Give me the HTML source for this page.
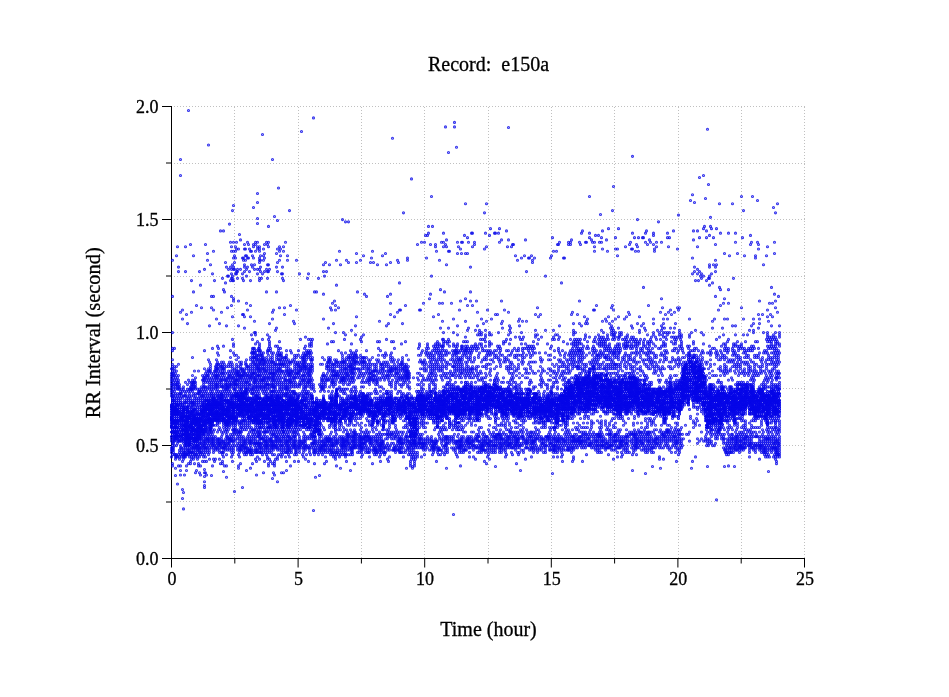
<!DOCTYPE html>
<html><head><meta charset="utf-8"><title>Record: e150a</title>
<style>
html,body{margin:0;padding:0;background:#fff;width:949px;height:697px;overflow:hidden}
svg{display:block}
.tl{font-family:"Liberation Serif",serif;font-size:18px;fill:#000;stroke:#000;stroke-width:.3px}
.lb{font-family:"Liberation Serif",serif;font-size:20px;fill:#000;stroke:#000;stroke-width:.3px}
</style></head><body>
<svg width="949" height="697" viewBox="0 0 949 697">
<rect width="949" height="697" fill="#fff"/>
<path d="M234.5 107V558M298.5 107V558M361.5 107V558M424.5 107V558M488.5 107V558M551.5 107V558M614.5 107V558M678.5 107V558M741.5 107V558M804.5 107V558M171 501.5H805M171 445.5H805M171 388.5H805M171 332.5H805M171 276.5H805M171 219.5H805M171 163.5H805M171 106.5H805" stroke="#c0c0c0" stroke-width="1" stroke-dasharray="1 2" fill="none"/>
<path d="M171.5 106V559M171 558.5H805" stroke="#000" stroke-width="1" fill="none"/>
<path d="M171.50 558V567.5M234.80 558V563.5M298.10 558V567.5M361.40 558V563.5M424.70 558V567.5M488.00 558V563.5M551.30 558V567.5M614.60 558V563.5M677.90 558V567.5M741.20 558V563.5M804.50 558V567.5M171 558.50H162M171 502.00H166M171 445.50H162M171 389.00H166M171 332.50H162M171 276.00H166M171 219.50H162M171 163.00H166M171 106.50H162" stroke="#000" stroke-width="1" fill="none"/>
<text x="171.9" y="585" text-anchor="middle" class="tl">0</text>
<text x="298.5" y="585" text-anchor="middle" class="tl">5</text>
<text x="425.1" y="585" text-anchor="middle" class="tl">10</text>
<text x="551.7" y="585" text-anchor="middle" class="tl">15</text>
<text x="678.3" y="585" text-anchor="middle" class="tl">20</text>
<text x="804.9" y="585" text-anchor="middle" class="tl">25</text>
<text x="158.6" y="564.8" text-anchor="end" class="tl">0.0</text>
<text x="158.6" y="451.8" text-anchor="end" class="tl">0.5</text>
<text x="158.6" y="338.8" text-anchor="end" class="tl">1.0</text>
<text x="158.6" y="225.8" text-anchor="end" class="tl">1.5</text>
<text x="158.6" y="112.8" text-anchor="end" class="tl">2.0</text>
<text x="488.5" y="70.5" text-anchor="middle" class="lb" xml:space="preserve">Record:  e150a</text>
<text x="488.5" y="635.8" text-anchor="middle" class="lb">Time (hour)</text>
<text transform="translate(99.9 332.8) rotate(-90)" text-anchor="middle" class="lb" style="font-size:20.4px">RR Interval (second)</text>
<defs><marker id="c" markerUnits="userSpaceOnUse" markerWidth="4" markerHeight="4" refX="2" refY="2" overflow="visible"><circle cx="2" cy="2" r="1" fill="none" stroke="#0606e8" stroke-opacity="0.8" stroke-width="1.15"/></marker><marker id="k" markerUnits="userSpaceOnUse" markerWidth="4" markerHeight="4" refX="2" refY="2" overflow="visible"><circle cx="2" cy="2" r="1" fill="none" stroke="#0606e8" stroke-opacity="1.0" stroke-width="1.15"/></marker></defs>
<path d="M171.5 368.76v4.52 2.26 2.26 2.26 2.26 2.26 2.26 2.26 2.26 2.26 2.26 42.94 2.26 6.78 2.26 2.26 4.52M172.5 260.28v36.16 36.16 15.82 2.26 9.04 4.52 2.26 2.26 2.26 2.26 2.26 4.52 4.52 6.78 4.52 36.16 2.26 9.04 2.26 2.26 2.26 4.52 9.04 2.26M173.5 373.28v2.26 2.26 4.52 2.26 2.26 2.26 4.52 2.26 4.52 36.16 2.26 2.26 2.26 4.52 2.26 2.26M174.5 348.42v18.08 2.26 2.26 4.52 4.52 11.3 6.78 2.26 45.2 9.04M175.5 373.28v4.52 4.52 2.26 2.26 2.26 4.52 2.26 42.94 15.82 2.26 2.26 9.04 7.3M176.5 255.76v110.74 4.52 4.52 4.52 4.52 13.56 2.26 45.2 9.04 2.26M177.5 246.72v131.08 4.52 2.26 2.26 2.26 4.52 2.26 42.94 2.26 2.26 13.56 27.12M178.5 267.06v4.52 92.66 11.3 4.52 2.26 4.52 2.26 9.04 2.26 2.26 2.26 36.16 13.56 11.3M179.5 384.58v2.26 2.26 4.52 2.26 11.3 33.9 9.04 2.26 4.52 2.26M180.5 159.5v16 136.76 79.1 2.26 4.52 2.26 40.68 4.52 2.26 6.78 11.3 4.52 4.52M181.5 389.1v4.52 2.26 42.94 2.26 6.78 2.26 2.26 4.52M182.5 310v9.04 72.32 6.78 4.52 36.16 15.82 6.78 28.08 9M183.5 386.84v2.26 6.78 47.46 4.52 2.26 2.26 2.26 2.26 2.26 33.34 16.38M184.5 391.36v4.52 4.52 2.26 2.26 2.26 2.26 36.16 6.78 2.26 2.26 18.08M185.5 246.72v24.86 110.74 11.3 2.26 6.78 4.52 38.42 2.26 2.26 2.26 2.26 2.26M186.5 314.52v76.84 6.78 2.26 2.26 51.98 11.3 4.52M187.5 323.56v61.02 4.52 6.78 45.2 2.26 4.52 2.26 2.26 2.26M188.5 110.5v269.56 11.3 6.78 2.26 2.26 2.26 40.68 4.52 2.26 2.26 9.04M189.5 382.32v6.78 4.52 2.26 11.3 2.26 2.26 2.26 33.9 2.26 2.26 4.52M190.5 244.46v142.38 2.26 2.26 6.78 2.26 2.26 2.26 47.46 2.26 6.78 2.26M191.5 280.62v31.64 70.06 2.26 2.26 2.26 6.78 6.78 4.52 2.26 2.26 36.16 2.26 2.26 4.52 2.26M192.5 357.46v18.08 4.52 2.26 2.26 4.52 2.26 9.04 2.26 2.26 2.26 40.68 4.52 2.26M193.5 255.76v36.16 90.4 2.26 2.26 2.26 4.52 2.26 6.78 2.26 4.52 38.42 2.26 2.26 4.52 2.26M194.5 371.02v9.04 2.26 4.52 11.3 2.26 2.26 2.26 40.68 2.26 6.78 9.04M195.5 377.8v4.52 2.26 2.26 2.26 4.52 2.26 11.3 2.26 2.26 2.26 29.38 2.26 2.26 2.26 2.26 2.26 2.26 15.82M196.5 305.48v92.66 2.26 2.26 2.26 6.78 29.38 4.52 2.26 6.78 15.82M197.5 389.1v4.52 13.56 2.26 2.26 2.26 33.9 2.26 2.26 4.52 2.26M198.5 371.02v20.34 2.26 4.52 2.26 2.26 2.26 40.68 2.26 2.26 4.52 9.04 2.26M199.5 271.58v117.52 2.26 2.26 2.26 11.3 2.26 2.26 29.38 2.26 4.52 2.26 2.26 4.52 15.82M200.5 285.14v106.22 6.78 2.26 2.26 33.9 2.26 4.52 2.26 2.26 4.52 2.26 11.3 9.04M201.5 307.74v79.1 2.26 4.52 2.26 40.68 2.26 2.26 2.26 4.52 2.26 2.26M202.5 375.54v4.52 11.3 4.52 2.26 2.26 2.26 2.26 29.38 11.3 9.04 6.78M203.5 377.8v2.26 2.26 2.26 2.26 2.26 4.52 2.26 6.78 2.26 31.64 2.26 2.26 2.26 2.26 2.26 2.26 2.26 4.52M204.5 269.32v81.36 18.08 6.78 2.26 2.26 6.78 4.52 6.78 2.26 2.26 27.12 2.26 2.26 6.78 2.26 2.26 2.26 6.78 6.78 8.08 3.22 3.78 5.26 3.74 2M205.5 244.46v128.82 4.52 4.52 4.52 2.26 4.52 2.26 4.52 31.64 4.52 2.26 2.26 2.26 4.52 2.26 2.26 4.52 15.82M206.5 371.02v4.52 4.52 11.3 6.78 29.38 2.26 2.26 6.78 6.78 2.26 13.56 13.56M207.5 253.5v6.78 113 2.26 2.26 4.52 4.52 2.26 4.52 2.26 4.52 22.6 2.26 2.26 4.52 2.26 2.26 2.26 2.26 2.26 4.52 2.26 2.26M208.5 145.02v214.7 9.04 2.26 4.52 4.52 18.08 2.26 29.38 4.52 4.52 2.26 4.52 9.04M209.5 325.82v36.16 9.04 2.26 4.52 4.52 2.26 2.26 2.26 4.52 2.26 4.52 2.26 22.6 2.26 2.26 2.26 4.52 2.26 2.26 2.26 4.52 2.26 2.26 6.78M210.5 264.8v99.44 2.26 2.26 2.26 9.04 11.3 6.78 33.9 2.26 11.3M211.5 296.44v11.3 65.54 4.52 4.52 2.26 2.26 2.26 33.9 2.26 2.26 4.52 4.52 2.26 2.26 2.26 4.52 27.64M212.5 273.84v74.58 27.12 4.52 11.3 6.78 31.64 4.52 4.52 2.26 2.26 2.26 20.34M213.5 251.24v45.2 13.56 63.28 4.52 4.52 2.26 2.26 2.26 4.52 24.86 2.26 4.52 6.78 4.52 2.26 2.26 2.26 2.26 2.26 2.26 2.26 6.78M214.5 280.62v90.4 4.52 4.52 18.08 2.26 29.38 15.82 15.82M215.5 366.5v2.26 2.26 2.26 2.26 2.26 4.52 2.26 2.26 2.26 4.52 2.26 4.52 20.34 4.52 11.3 2.26 2.26 2.26 4.52 2.26 9.04M216.5 319.04v40.68 4.52 2.26 2.26 2.26 4.52 2.26 2.26 4.52 2.26 4.52 6.78 2.26 2.26 42.94 2.26M217.5 346.16v6.78 9.04 2.26 4.52 4.52 2.26 2.26 4.52 2.26 2.26 2.26 4.52 2.26 4.52 24.86 6.78 6.78 2.26 2.26 4.52 2.26M218.5 348.42v6.78 9.04 2.26 2.26 2.26 4.52 4.52 11.3 4.52 2.26 2.26 29.38 9.04 2.26 2.26 2.26M219.5 323.56v49.72 4.52 4.52 2.26 2.26 6.78 2.26 2.26 4.52 20.34 4.52 11.3 2.26 2.26 2.26 2.26 2.26 2.26 6.78M220.5 230.9v133.34 2.26 4.52 4.52 4.52 11.3 6.78 2.26 2.26 27.12 13.56 2.26 18.08M221.5 312.26v49.72 4.52 2.26 4.52 4.52 2.26 2.26 2.26 2.26 6.78 27.12 11.3 4.52 2.26 2.26 2.26 4.52 4.52M222.5 278.36v85.88 2.26 2.26 2.26 2.26 2.26 4.52 6.78 4.52 4.52 2.26 2.26 2.26 31.64 6.78 4.52 2.26 4.52 2.26 6.78 2.26M223.5 230.9v58.76 56.5 15.82 6.78 4.52 4.52 6.78 2.26 2.26 4.52 2.26 29.38 2.26 4.52 9.04 2.26 4.52 2.26 2.26 4.52 14.6M224.5 291.92v72.32 2.26 2.26 2.26 4.52 4.52 11.3 6.78 31.64 13.56 2.26 2.26 18.08M225.5 262.54v20.34 90.4 4.52 2.26 2.26 2.26 2.26 2.26 4.52 2.26 29.38 6.78 6.78 2.26 2.26 2.26 2.26 2.26M226.5 267.06v58.76 40.68 13.56 4.52 2.26 2.26 2.26 6.78 4.52 2.26 29.38 2.26 9.04 9.04 11.3 11.3M227.5 276.1v31.64 65.54 4.52 4.52 2.26 2.26 2.26 4.52 2.26 24.86 2.26 2.26 6.78 4.52 2.26 2.26 2.26 4.52 2.26M228.5 269.32v6.78 88.14 2.26 4.52 4.52 2.26 2.26 6.78 4.52 31.64 2.26 4.52 9.04 4.52 2.26M229.5 224.12v137.86 11.3 2.26 2.26 4.52 2.26 2.26 2.26 4.52 2.26 27.12 2.26 2.26 9.04 2.26 2.26 2.26 4.52 2.26M230.5 242.2v24.86 13.56 70.06 6.78 6.78 2.26 4.52 4.52 4.52 4.52 6.78 6.78 2.26 2.26 2.26 29.38 4.52 2.26 4.52M231.5 246.72v4.52 18.08 4.52 4.52 18.08 9.04 56.5 11.3 4.52 4.52 2.26 2.26 6.78 2.26 2.26 2.26 2.26 20.34 2.26 11.3 2.26 2.26 6.78 2.26 2.26 4.52M232.5 210.56v54.24 11.3 2.26 2.26 36.16 22.6 24.86 2.26 2.26 2.26 4.52 2.26 2.26 15.82 2.26 2.26 22.6 6.78 4.52 6.78 4.52 9.04 6.78M233.5 205.5v36.7 9.04 6.78 9.04 2.26 11.3 18.08 2.26 42.94 2.26 6.78 20.34 4.52 4.52 2.26 2.26 2.26 4.52 2.26 6.78 20.34 2.26 2.26 2.26 2.26 4.52 2.26 2.26 2.26 4.52 2.26 2.26M234.5 255.76v6.78 6.78 85.88 13.56 2.26 4.52 4.52 2.26 2.26 4.52 2.26 4.52 2.26 2.26 2.26 27.12 2.26 2.26 11.3 45.9M235.5 246.72v4.52 6.78 15.82 99.44 4.52 2.26 2.26 2.26 2.26 2.26 38.42 2.26 2.26 6.78 2.26M236.5 242.2v6.78 22.6 2.26 81.36 4.52 4.52 2.26 2.26 2.26 2.26 2.26 4.52 4.52 6.78 2.26 2.26 24.86 9.04 4.52 11.3M237.5 269.32v2.26 6.78 92.66 2.26 2.26 2.26 2.26 2.26 2.26 2.26 6.78 2.26 24.86 2.26 9.04 4.52 2.26 4.52 4.52 2.26M238.5 248.98v51.98 24.86 31.64 9.04 4.52 2.26 2.26 4.52 11.3 2.26 22.6 13.56 2.26 2.26 11.3 9.04 11.3 2.26M239.5 234.5v127.48 11.3 2.26 2.26 4.52 2.26 2.26 2.26 4.52 2.26 24.86 2.26 2.26 6.78 4.52 2.26 2.26 2.26 4.52 2.26 2.26 4.52M240.5 239.94v29.38 94.92 2.26 2.26 2.26 4.52 2.26 2.26 11.3 31.64 4.52 2.26 2.26 2.26 11.3 2.26 2.26 13.56M241.5 361.98v2.26 4.52 4.52 2.26 2.26 4.52 2.26 2.26 24.86 2.26 6.78 2.26 2.26 2.26 4.52 4.52 2.26 2.26 2.26 2.26 2.26 2.26M242.5 258.02v15.82 4.52 36.16 54.24 2.26 4.52 4.52 11.3 27.12 2.26 9.04 15.82 41.9M243.5 258.02v2.26 20.34 33.9 56.5 2.26 2.26 2.26 4.52 2.26 2.26 29.38 4.52 2.26 2.26 2.26 9.04 2.26 2.26 2.26 2.26 2.26 2.26 2.26M244.5 244.46v4.52 15.82 2.26 4.52 45.2 11.3 40.68 2.26 2.26 2.26 4.52 11.3 4.52 24.86 9.04 11.3 2.26 2.26 2.26 6.78M245.5 248.98v6.78 4.52 101.7 2.26 9.04 4.52 4.52 2.26 2.26 22.6 2.26 2.26 6.78 2.26 2.26 2.26 11.3 2.26 2.26 4.52 2.26 2.26M246.5 255.76v13.56 6.78 27.12 56.5 4.52 2.26 2.26 6.78 4.52 2.26 6.78 2.26 2.26 22.6 2.26 11.3 15.82 2.26 4.52 2.26 15.82M247.5 242.2v15.82 9.04 42.94 56.5 6.78 2.26 2.26 4.52 2.26 2.26 2.26 4.52 2.26 24.86 2.26 2.26 2.26 9.04 2.26 2.26 2.26 4.52 2.26 2.26M248.5 244.46v13.56 108.48 2.26 2.26 4.52 4.52 11.3 42.94 15.82M249.5 248.98v22.6 101.7 4.52 4.52 2.26 2.26 2.26 9.04 24.86 2.26 2.26 4.52 4.52 2.26 2.26 2.26 4.52 2.26 2.26M250.5 251.24v29.38 24.86 11.3 40.68 2.26 4.52 2.26 2.26 2.26 4.52 2.26 2.26 4.52 6.78 38.42 11.3 2.26 2.26 4.52 2.26 2.26 13.56M251.5 251.24v13.56 70.06 18.08 20.34 2.26 2.26 11.3 4.52 27.12 2.26 4.52 4.52 4.52 2.26 2.26 2.26 4.52 2.26 2.26M252.5 255.76v11.3 72.32 9.04 2.26 2.26 2.26 2.26 2.26 2.26 2.26 2.26 2.26 2.26 2.26 2.26 4.52 6.78 2.26 2.26 2.26 4.52 2.26 29.38 4.52 20.34 9.04M253.5 207.5v36.96 2.26 11.3 90.4 4.52 4.52 4.52 11.3 4.52 4.52 2.26 2.26 2.26 4.52 2.26 2.26 2.26 22.6 6.78 2.26 4.52 2.26 2.26 2.26 6.78 2.26M254.5 264.8v4.52 51.98 11.3 15.82 2.26 2.26 2.26 2.26 2.26 4.52 2.26 2.26 2.26 2.26 2.26 2.26 2.26 2.26 9.04 6.78 2.26 29.38 4.52 9.04 2.26M255.5 242.2v2.26 6.78 81.36 2.26 9.04 9.04 4.52 4.52 2.26 9.04 4.52 2.26 2.26 2.26 2.26 2.26 4.52 2.26 27.12 2.26 2.26 4.52 4.52 2.26 2.26 2.26 4.52 2.26 2.26 6.78M256.5 350.68v4.52 2.26 2.26 4.52 2.26 2.26 2.26 4.52 4.52 6.78 4.52 31.64 6.78 4.52 9.04 2.26 4.52 2.26 9.04 13.56M257.5 193.5v9 16 5 18.7 4.52 2.26 20.34 4.52 67.8 13.56 4.52 2.26 4.52 2.26 4.52 2.26 2.26 4.52 2.26 2.26 2.26 4.52 2.26 2.26 27.12 2.26 4.52 4.52 4.52 2.26 4.52 2.26 2.26 4.52M258.5 348.42v2.26 4.52 2.26 2.26 4.52 2.26 2.26 2.26 4.52 4.52 11.3 29.38 2.26 6.78 2.26 2.26 2.26 6.78 2.26M259.5 246.72v2.26 2.26 6.78 2.26 2.26 6.78 9.04 2.26 63.28 2.26 2.26 2.26 2.26 9.04 2.26 4.52 2.26 2.26 2.26 2.26 4.52 2.26 2.26 2.26 4.52 2.26 36.16 2.26 2.26 2.26 2.26 2.26 2.26 2.26 2.26 2.26 6.78M260.5 255.76v4.52 6.78 4.52 79.1 4.52 2.26 2.26 2.26 2.26 2.26 2.26 2.26 4.52 4.52 6.78 40.68 2.26 4.52 4.52 4.52 2.26 2.26 4.52M261.5 278.36v74.58 2.26 4.52 2.26 11.3 4.52 2.26 2.26 2.26 2.26 2.26 36.16 2.26 4.52 4.52 2.26 4.52 4.52 2.26 2.26M262.5 134.5v139.34 65.54 15.82 2.26 2.26 4.52 2.26 2.26 2.26 4.52 4.52 11.3 9.04 38.42 6.78 9.04M263.5 248.98v6.78 4.52 92.66 4.52 2.26 2.26 2.26 4.52 4.52 4.52 2.26 2.26 2.26 2.26 2.26 4.52 4.52 33.9 4.52 2.26 2.26 2.26 4.52 2.26 2.26 20.34M264.5 244.46v9.04 4.52 13.56 88.14 2.26 2.26 2.26 2.26 2.26 4.52 2.26 2.26 6.78 4.52 6.78 2.26 29.38 2.26 2.26 6.78 4.52 15.82M265.5 361.98v9.04 2.26 4.52 4.52 2.26 2.26 2.26 4.52 2.26 31.64 4.52 4.52 2.26 2.26 2.26 2.26 2.26 2.26 2.26M266.5 242.2v27.12 22.6 65.54 2.26 4.52 2.26 2.26 2.26 4.52 4.52 4.52 6.78 4.52 22.6 11.3 2.26 9.04 2.26 2.26 2.26 6.78M267.5 244.46v20.34 6.78 6.78 56.5 15.82 2.26 9.04 11.3 4.52 4.52 2.26 2.26 2.26 4.52 2.26 24.86 2.26 2.26 2.26 4.52 4.52 2.26 2.26 2.26 2.26 2.26 2.26 2.26 4.52 2.26M268.5 226.38v15.82 4.52 18.08 6.78 67.8 9.04 2.26 4.52 4.52 4.52 2.26 2.26 2.26 4.52 2.26 2.26 4.52 45.2 15.82 18.08 2.26M269.5 269.32v54.24 13.56 4.52 2.26 2.26 15.82 11.3 4.52 6.78 2.26 2.26 4.52 4.52 22.6 4.52 2.26 4.52 6.78 2.26 2.26 4.52 2.26 2.26 6.78M270.5 348.42v2.26 6.78 2.26 4.52 2.26 2.26 2.26 2.26 2.26 4.52 11.3 4.52 24.86 4.52 2.26 2.26 4.52 4.52 2.26 4.52 15.82M271.5 352.94v9.04 11.3 4.52 4.52 2.26 2.26 4.52 2.26 29.38 2.26 2.26 4.52 4.52 2.26 2.26 2.26 2.26 2.26 2.26 2.26M272.5 159.5v152.76 6.78 36.16 2.26 2.26 2.26 2.26 2.26 2.26 2.26 2.26 2.26 2.26 2.26 4.52 2.26 4.52 4.52 2.26 2.26 27.12 2.26 4.52 6.78 2.26 2.26 2.26 6.78 9.04 14.82M273.5 310v42.94 9.04 11.3 2.26 2.26 2.26 2.26 2.26 2.26 2.26 2.26 2.26 2.26 29.38 6.78 2.26 2.26 4.52 2.26 2.26 2.26 2.26 22.6M274.5 216.5v147.74 2.26 2.26 2.26 2.26 2.26 4.52 6.78 4.52 38.42 4.52 11.3 9.04 6.78 2.26 2.26 9.04M275.5 330.34v15.82 15.82 2.26 9.04 4.52 4.52 2.26 2.26 2.26 4.52 2.26 31.64 4.52 4.52 2.26 2.26 2.26 2.26 2.26 11.3M276.5 253.5v13.56 24.86 36.16 27.12 2.26 2.26 4.52 2.26 2.26 2.26 4.52 4.52 11.3 4.52 29.38 2.26 2.26 4.52 2.26 2.26 2.26 4.52 2.26M277.5 220.5v28.48 13.56 9.04 74.58 6.78 18.08 2.26 4.52 4.52 2.26 9.04 38.42 4.52 4.52 2.26 4.52 2.26 6.78 2.26 22.6M278.5 187.96v160.46 2.26 4.52 2.26 2.26 4.52 2.26 2.26 2.26 4.52 4.52 11.3 4.52 33.9 4.52 4.52 6.78 9.04M279.5 246.72v4.52 9.04 47.46 33.9 11.3 2.26 4.52 2.26 2.26 4.52 4.52 4.52 4.52 2.26 2.26 2.26 4.52 2.26 2.26 24.86 2.26 2.26 4.52 4.52 2.26 2.26 2.26 4.52 2.26M280.5 248.98v6.78 92.66 6.78 4.52 4.52 2.26 2.26 2.26 4.52 4.52 11.3 6.78 2.26 29.38 4.52 6.78 4.52 9.04M281.5 273.84v79.1 2.26 2.26 4.52 2.26 6.78 2.26 4.52 4.52 2.26 2.26 2.26 4.52 31.64 2.26 4.52 4.52 2.26 2.26 2.26 2.26 2.26 2.26 2.26 4.52 15.82M282.5 267.06v6.78 4.52 79.1 2.26 4.52 2.26 4.52 20.34 42.94 11.3 9.04M283.5 246.72v4.52 29.38 81.36 2.26 9.04 4.52 4.52 2.26 2.26 2.26 49.72 2.26 2.26 4.52 2.26 2.26 20.34M284.5 307.74v6.78 42.94 2.26 4.52 2.26 4.52 4.52 4.52 49.72 4.52 11.3M285.5 242.2v115.26 4.52 11.3 4.52 2.26 2.26 2.26 2.26 2.26 4.52 2.26 27.12 2.26 2.26 4.52 4.52 2.26 2.26 2.26 4.52 2.26 2.26 4.52M286.5 350.68v4.52 2.26 2.26 4.52 2.26 2.26 2.26 4.52 4.52 6.78 2.26 2.26 2.26 2.26 2.26 27.12 4.52 4.52 6.78 2.26 2.26 6.78 9.04 9.04M287.5 255.76v4.52 101.7 9.04 2.26 9.04 2.26 2.26 2.26 4.52 2.26 36.16 4.52 2.26 2.26 2.26 2.26 2.26 2.26 2.26M288.5 359.72v4.52 2.26 2.26 2.26 2.26 2.26 4.52 11.3 6.78 2.26 2.26 2.26 22.6 2.26 4.52 2.26 4.52 4.52 2.26 2.26 4.52M289.5 210.56v151.42 11.3 2.26 2.26 2.26 2.26 2.26 2.26 2.26 4.52 2.26 2.26 33.9 4.52 2.26 2.26 2.26 4.52 2.26 2.26 4.52M290.5 305.48v45.2 11.3 2.26 4.52 2.26 2.26 2.26 4.52 2.26 9.04 4.52 29.38 4.52 9.04 6.78 20.34M291.5 352.94v9.04 9.04 2.26 4.52 4.52 2.26 2.26 6.78 2.26 2.26 2.26 27.12 4.52 4.52 2.26 2.26 2.26 4.52 2.26 2.26M292.5 359.72v11.3 4.52 4.52 11.3 6.78 2.26 29.38 4.52 11.3M293.5 321.3v40.68 11.3 4.52 4.52 2.26 2.26 4.52 2.26 2.26 2.26 22.6 4.52 2.26 4.52 4.52 2.26 2.26 2.26 2.26 2.26M294.5 323.56v31.64 2.26 2.26 4.52 2.26 2.26 2.26 4.52 2.26 2.26 11.3 2.26 4.52 2.26 20.34 9.04 2.26 2.26 2.26 4.52 2.26 2.26 2.26 6.78 6.78M295.5 361.98v11.3 4.52 4.52 2.26 2.26 6.78 2.26 36.16 4.52 2.26 2.26 2.26 2.26 2.26 2.26 2.26M296.5 260.28v49.72 45.2 2.26 6.78 2.26 2.26 2.26 2.26 2.26 18.08 31.64 4.52 4.52 11.3 4.52 2.26 2.26M297.5 361.98v2.26 9.04 4.52 6.78 2.26 9.04 22.6 2.26 2.26 2.26 2.26 4.52 9.04 6.78M298.5 350.68v4.52 9.04 2.26 2.26 2.26 2.26 2.26 20.34 2.26 31.64 4.52 9.04 2.26 2.26 13.56M299.5 273.84v88.14 4.52 4.52 2.26 4.52 4.52 2.26 2.26 6.78 2.26 29.38 2.26 9.04 2.26 2.26 2.26 2.26 2.26 2.26 2.26M300.5 339.38v18.08 6.78 2.26 2.26 2.26 4.52 4.52 4.52 18.08 27.12 11.3 4.52M301.5 131.46v230.52 6.78 9.04 4.52 11.3 31.64 15.82 2.26 4.52M302.5 355.2v2.26 2.26 4.52 2.26 2.26 2.26 4.52 4.52 11.3 4.52 31.64 15.82 2.26 9.04M303.5 352.94v4.52 2.26 2.26 2.26 2.26 6.78 2.26 2.26 2.26 2.26 2.26 2.26 2.26 4.52 2.26 4.52 4.52 2.26 18.08 2.26 4.52 4.52 2.26 2.26 2.26 4.52 2.26 2.26 4.52M304.5 348.42v6.78 2.26 2.26 2.26 2.26 2.26 2.26 2.26 4.52 4.52 11.3 6.78 2.26 2.26 2.26 20.34 9.04 6.78 4.52 2.26M305.5 337.12v9.04 6.78 2.26 6.78 4.52 2.26 4.52 4.52 4.52 2.26 2.26 2.26 4.52 2.26 2.26 2.26 36.16 2.26 2.26 2.26 2.26 2.26 2.26 9.04M306.5 350.68v4.52 2.26 2.26 4.52 2.26 2.26 2.26 4.52 4.52 6.78 4.52 2.26 4.52 2.26 2.26 2.26 2.26 22.6 15.82 9.04M307.5 278.36v74.58 20.34 4.52 4.52 2.26 9.04 2.26 11.3 20.34 9.04 2.26 9.04M308.5 273.84v65.54 11.3 2.26 2.26 2.26 6.78 2.26 2.26 2.26 2.26 2.26 4.52 2.26 9.04 6.78 2.26 2.26 2.26 24.86 15.82 2.26 13.56M309.5 343.9v2.26 6.78 15.82 2.26 2.26 2.26 2.26 2.26 2.26 2.26 2.26 6.78 2.26 6.78 4.52 29.38 2.26 9.04 2.26 2.26M310.5 339.38v11.3 4.52 2.26 2.26 4.52 2.26 2.26 2.26 4.52 4.52 20.34 4.52 4.52 2.26 18.08 4.52 11.3 9.04M311.5 341.64v2.26 2.26 6.78 6.78 2.26 4.52 6.78 4.52 4.52 2.26 2.26 2.26 4.52 29.38 2.26 6.78 2.26 2.26 2.26 4.52 4.52M312.5 339.38v18.08 2.26 4.52 2.26 2.26 2.26 9.04 15.82 20.34 2.26 2.26 9.04 4.52 2.26 6.78 2.26M313.5 117.9v266.68 2.26 2.26 42.94 4.52 2.26 2.26 2.26 4.52 2.26 2.26 58.12M314.5 291.92v99.44 11.3 2.26 36.16 2.26 2.26 4.52 2.26 2.26 9.04M315.5 402.66v33.9 2.26 2.26 2.26 4.52 2.26 2.26 24.86M316.5 291.92v106.22 47.46M317.5 402.66v38.42 2.26 4.52 2.26 2.26M318.5 278.36v122.04 4.52 40.68 9.04M319.5 384.58v18.08 33.9 2.26 2.26 2.26 4.52 2.26 2.26 23.12M320.5 364.24v22.6 4.52 9.04 2.26 20.34 6.78 4.52 11.3 2.26 2.26M321.5 377.8v2.26 2.26 2.26 2.26 2.26 13.56 22.6 6.78 4.52 4.52 2.26 2.26 2.26 2.26 2.26M322.5 357.46v6.78 11.3 4.52 6.78 2.26 13.56 15.82 15.82 6.78 4.52 2.26 6.78M323.5 264.8v6.78 22.6 24.86 54.24 2.26 2.26 4.52 2.26 2.26 2.26 6.78 22.6 2.26 6.78 11.3 2.26 2.26 2.26 2.26 2.26 2.26M324.5 276.1v83.62 15.82 4.52 11.3 9.04 2.26 13.56 2.26 11.3 13.56 2.26 4.52 13.56M325.5 262.54v115.26 4.52 2.26 2.26 31.64 18.08 2.26 2.26 2.26 2.26 2.26 2.26 2.26 4.52M326.5 271.58v92.66 2.26 2.26 6.78 4.52 22.6 2.26 11.3 2.26 20.34 2.26 4.52 15.82M327.5 343.9v18.08 4.52 6.78 4.52 2.26 38.42 2.26 15.82 2.26 2.26 2.26 4.52 2.26 2.26M328.5 328.08v29.38 2.26 2.26 2.26 2.26 2.26 2.26 9.04 11.3 11.3 2.26 15.82 18.08 2.26 4.52M329.5 264.8v94.92 2.26 15.82 9.04 9.04 2.26 22.6 4.52 2.26 9.04 2.26 2.26 2.26 4.52 2.26 2.26M330.5 307.74v49.72 2.26 4.52 2.26 2.26 2.26 4.52 4.52 18.08 4.52 2.26 29.38 4.52 2.26 4.52 4.52 4.52M331.5 310v31.64 20.34 11.3 4.52 4.52 2.26 9.04 2.26 29.38 6.78 6.78 2.26 2.26 2.26 2.26 2.26 2.26M332.5 303.22v61.02 2.26 2.26 2.26 4.52 4.52 2.26 9.04 6.78 2.26 2.26 18.08 22.6 2.26 6.78 2.26M333.5 323.56v18.08 22.6 6.78 2.26 2.26 2.26 2.26 2.26 2.26 2.26 9.04 11.3 2.26 13.56 4.52 9.04 2.26 2.26 2.26 2.26 2.26 2.26 2.26 4.52M334.5 300.96v58.76 4.52 2.26 2.26 2.26 4.52 22.6 2.26 24.86 20.34 9.04M335.5 305.48v4.52 22.6 29.38 11.3 2.26 2.26 4.52 2.26 9.04 2.26 2.26 33.9 4.52 2.26 2.26 2.26 6.78 2.26 4.52 2.26M336.5 260.28v24.86 74.58 2.26 2.26 2.26 4.52 2.26 2.26 4.52 9.04 45.2 6.78 2.26 2.26 6.78 2.26 11.3M337.5 361.98v11.3 2.26 2.26 11.3 4.52 2.26 9.04 15.82 2.26 15.82 2.26 2.26 4.52 2.26 2.26M338.5 307.74v42.94 13.56 2.26 4.52 4.52 42.94 11.3 24.86M339.5 251.24v110.74 11.3 4.52 4.52 4.52 2.26 6.78 27.12 2.26 2.26 9.04 2.26 2.26 2.26 6.78 2.26 4.52M340.5 264.8v99.44 2.26 2.26 2.26 4.52 4.52 11.3 6.78 2.26 29.38 15.82 9.04 13.56M341.5 352.94v9.04 11.3 4.52 2.26 2.26 6.78 29.38 4.52 2.26 11.3 2.26 2.26 2.26 2.26 2.26 2.26 2.26M342.5 219.6v135.6 2.26 2.26 2.26 2.26 2.26 2.26 2.26 4.52 2.26 2.26 11.3 6.78 2.26 2.26 15.82 20.34 2.26 2.26 2.26 2.26 6.78M343.5 332.6v29.38 11.3 4.52 2.26 2.26 2.26 4.52 4.52 6.78 18.08 9.04 4.52 4.52 2.26 2.26 2.26 2.26 2.26 2.26 2.26M344.5 339.38v20.34 2.26 2.26 2.26 2.26 2.26 4.52 2.26 2.26 11.3 9.04 2.26 2.26 13.56 11.3 9.04 2.26 2.26 2.26 9.04M345.5 221.86v113 18.08 9.04 6.78 4.52 4.52 4.52 6.78 4.52 29.38 18.08 2.26 2.26 2.26 2.26 2.26 2.26 2.26M346.5 260.28v97.18 2.26 4.52 2.26 2.26 2.26 2.26 2.26 4.52 18.08 2.26 15.82 2.26 11.3 4.52 2.26 2.26 2.26 4.52 2.26 6.78 6.78M347.5 373.28v2.26 2.26 6.78 4.52 6.78 15.82 2.26 11.3 6.78 2.26 2.26 2.26 2.26 2.26 6.78M348.5 221.86v40.68 92.66 2.26 2.26 4.52 2.26 2.26 2.26 4.52 4.52 18.08 2.26 15.82 2.26 15.82 2.26 4.52 2.26 2.26 9.04M349.5 357.46v4.52 4.52 6.78 4.52 4.52 2.26 11.3 27.12 2.26 11.3 2.26 4.52 4.52 2.26M350.5 350.68v4.52 2.26 2.26 4.52 2.26 2.26 2.26 4.52 4.52 11.3 6.78 2.26 2.26 15.82 2.26 9.04 4.52 11.3 2.26 6.78 15.82M351.5 330.34v13.56 9.04 9.04 2.26 2.26 2.26 2.26 2.26 4.52 4.52 6.78 4.52 24.86 2.26 2.26 9.04 4.52 2.26 2.26 2.26 4.52 2.26 2.26M352.5 355.2v2.26 2.26 4.52 2.26 2.26 2.26 2.26 2.26 2.26 2.26 11.3 6.78 4.52 13.56 2.26 18.08 4.52 4.52 2.26 2.26 2.26 2.26M353.5 352.94v4.52 2.26 2.26 6.78 4.52 4.52 4.52 4.52 11.3 27.12 6.78 2.26 2.26 2.26 2.26 2.26 2.26 2.26M354.5 355.2v2.26 2.26 2.26 2.26 2.26 2.26 2.26 4.52 4.52 11.3 24.86 2.26 11.3 2.26 2.26 2.26 2.26 2.26 2.26 2.26 2.26 15.82M355.5 325.82v9.04 18.08 2.26 6.78 2.26 4.52 4.52 13.56 2.26 18.08 2.26 4.52 6.78 4.52 6.78 2.26 2.26 2.26 2.26 2.26 2.26 2.26M356.5 253.5v9.04 54.24 33.9 4.52 2.26 2.26 2.26 29.38 6.78 15.82 2.26 2.26 15.82 11.3M357.5 291.92v65.54 4.52 6.78 9.04 22.6 13.56 9.04 13.56 2.26 2.26 2.26 4.52 4.52M358.5 364.24v4.52 2.26 4.52 20.34 22.6 15.82 11.3M359.5 361.98v11.3 4.52 15.82 2.26 29.38 11.3 2.26 2.26 2.26 2.26 2.26 2.26 2.26M360.5 260.28v79.1 15.82 2.26 2.26 4.52 4.52 2.26 4.52 15.82 4.52 2.26 18.08 2.26 11.3 4.52 2.26 2.26 2.26 2.26 2.26 2.26M361.5 337.12v4.52 20.34 11.3 9.04 4.52 6.78 6.78 22.6 4.52 4.52 4.52 2.26 2.26 2.26 2.26 2.26 2.26 2.26 4.52M362.5 357.46v2.26 2.26 2.26 2.26 2.26 6.78 4.52 13.56 22.6 22.6 4.52 2.26 2.26 2.26 4.52M363.5 255.76v79.1 22.6 4.52 11.3 4.52 4.52 4.52 24.86 2.26 18.08 4.52 2.26 2.26 2.26 4.52M364.5 294.18v63.28 2.26 2.26 2.26 2.26 2.26 6.78 20.34 2.26 13.56 22.6 2.26 2.26 4.52 2.26M365.5 361.98v11.3 9.04 13.56 2.26 13.56 13.56 6.78 4.52 2.26 2.26 2.26 4.52 2.26 2.26M366.5 296.44v54.24 6.78 6.78 2.26 4.52 9.04 38.42 11.3 4.52 2.26 4.52 4.52M367.5 368.76v4.52 4.52 4.52 11.3 2.26 24.86 11.3 4.52 2.26 2.26 6.78 2.26 2.26M368.5 359.72v4.52 2.26 2.26 2.26 4.52 4.52 20.34 2.26 13.56 18.08 2.26 2.26 13.56M369.5 361.98v11.3 4.52 2.26 2.26 2.26 9.04 2.26 20.34 4.52 2.26 2.26 6.78 4.52 2.26 2.26 2.26 4.52 2.26 2.26 4.52M370.5 262.54v97.18 4.52 2.26 2.26 2.26 2.26 2.26 2.26 2.26 18.08 2.26 15.82 22.6 2.26 2.26 2.26M371.5 258.02v115.26 4.52 15.82 20.34 11.3 11.3 2.26 2.26 2.26 6.78M372.5 251.24v106.22 6.78 6.78 4.52 4.52 20.34 2.26 24.86 2.26 15.82 18.08M373.5 262.54v108.48 2.26 2.26 2.26 2.26 2.26 38.42 2.26 9.04 4.52 2.26 2.26 2.26 4.52 2.26 2.26M374.5 364.24v2.26 2.26 2.26 4.52 4.52 11.3 6.78 6.78 40.68 2.26 2.26 4.52M375.5 371.02v6.78 6.78 4.52 4.52 27.12 6.78 9.04 2.26 2.26 6.78 2.26 2.26M376.5 359.72v4.52 2.26 2.26 2.26 4.52 4.52 2.26 9.04 6.78 2.26 2.26 13.56 2.26 11.3 4.52 6.78 2.26 2.26 4.52 2.26 2.26M377.5 264.8v76.84 20.34 11.3 4.52 2.26 2.26 2.26 9.04 31.64 11.3 2.26 2.26 2.26 4.52 2.26 2.26M378.5 348.42v6.78 4.52 11.3 27.12 36.16 11.3M379.5 321.3v20.34 20.34 11.3 4.52 9.04 15.82 20.34 9.04 4.52 2.26 2.26 2.26 2.26 2.26 2.26 2.26 4.52M380.5 350.68v13.56 2.26 2.26 2.26 9.04 11.3 4.52 18.08 4.52 15.82 9.04 2.26 2.26 2.26 4.52 6.78M381.5 364.24v9.04 4.52 9.04 13.56 24.86 11.3 2.26 2.26 2.26 2.26 2.26 2.26 2.26M382.5 255.76v99.44 9.04 2.26 2.26 2.26 4.52 22.6 31.64 4.52 6.78 2.26 2.26M383.5 361.98v6.78 4.52 4.52 11.3 4.52 2.26 33.9 11.3 2.26 4.52 2.26 2.26M384.5 355.2v2.26 6.78 2.26 4.52 4.52 4.52 18.08 2.26 2.26 13.56 2.26 15.82 11.3 2.26 4.52 2.26M385.5 253.5v99.44 9.04 15.82 22.6 22.6 15.82 9.04 4.52M386.5 264.8v61.02 13.56 15.82 9.04 2.26 4.52 4.52 54.24 4.52 11.3M387.5 296.44v65.54 11.3 2.26 2.26 15.82 2.26 15.82 2.26 6.78 11.3 2.26 2.26 2.26 4.52 4.52 2.26 9.04M388.5 323.56v40.68 2.26 2.26 2.26 4.52 4.52 11.3 6.78 18.08 13.56 4.52 11.3 15.82M389.5 371.02v2.26 4.52 4.52 2.26 9.04 2.26 15.82 2.26 6.78 2.26 2.26 2.26 4.52 4.52 11.3 2.26 6.78M390.5 262.54v31.64 9.04 11.3 40.68 2.26 2.26 6.78 2.26 2.26 4.52 38.42 4.52 15.82 11.3M391.5 341.64v11.3 9.04 6.78 2.26 2.26 9.04 2.26 2.26 4.52 2.26 13.56 6.78 18.08 2.26 2.26 2.26 4.52M392.5 138.24v219.22 2.26 6.78 2.26 2.26 4.52 4.52 20.34 33.9 15.82M393.5 341.64v20.34 61.02 9.04 6.78 4.52 4.52 2.26M394.5 316.78v31.64 11.3 4.52 2.26 2.26 2.26 4.52 22.6 20.34 2.26 13.56 2.26 9.04 2.26 2.26M395.5 368.76v4.52 4.52 4.52 2.26 2.26 2.26 9.04 22.6 4.52 2.26 4.52 4.52 2.26 9.04 2.26 2.26M396.5 366.5v2.26 2.26 2.26 2.26 4.52 18.08 2.26 15.82 13.56 4.52 11.3M397.5 260.28v51.98 49.72 11.3 9.04 11.3 18.08 2.26 18.08 4.52 4.52 2.26 4.52 2.26M398.5 262.54v97.18 4.52 2.26 2.26 2.26 4.52 2.26 2.26 11.3 6.78 18.08 18.08 4.52 2.26 4.52 4.52M399.5 282.88v27.12 63.28 4.52 6.78 29.38 18.08 4.52 2.26 2.26 2.26 4.52 2.26 2.26M400.5 310v54.24 2.26 2.26 2.26 4.52 4.52 11.3 6.78 2.26 2.26 13.56 2.26 20.34 2.26 2.26 2.26 2.26 4.52M401.5 343.9v18.08 2.26 13.56 6.78 2.26 6.78 2.26 18.08 18.08 4.52 2.26 2.26 2.26 4.52 2.26 2.26M402.5 323.56v33.9 2.26 2.26 2.26 2.26 2.26 2.26 4.52 2.26 2.26 18.08 18.08 18.08 9.04 2.26M403.5 212.82v155.94 4.52 4.52 4.52 2.26 9.04 2.26 24.86 6.78 4.52 6.78 2.26 2.26 4.52 4.52 4.52M404.5 364.24v2.26 2.26 2.26 4.52 4.52 18.08M405.5 305.48v36.16 24.86 4.52 2.26 2.26 2.26 4.52 13.56 22.6 2.26 4.52 2.26 9.04 2.26 2.26 2.26 6.78 2.26M406.5 355.2v9.04 2.26 2.26 2.26 2.26 2.26 2.26 2.26 15.82 38.42 2.26 9.04 22.6M407.5 258.02v2.26 108.48 2.26 2.26 2.26 2.26 6.78 2.26 6.78 2.26 22.6 4.52 2.26 2.26 4.52 4.52 2.26 2.26 2.26 4.52 2.26M408.5 359.72v6.78 4.52 2.26 2.26 2.26 2.26 18.08 18.08 2.26 11.3 11.3 4.52 2.26 6.78M409.5 373.28v2.26 2.26 4.52 4.52 2.26 4.52 4.52 24.86 9.04 4.52 4.52 2.26 4.52 2.26 2.26M410.5 402.66v40.68 2.26 9.04 6.78 2.26 2.26M411.5 178.92v216.96 49.72 2.26 2.26 2.26 4.52 2.26M412.5 398.14v2.26 45.2 9.04 11.86 1.7M413.5 377.8v24.86 47.46 2.26 4.52 2.26M414.5 398.14v2.26 45.2 9.04 6.78 2.26 2.26M415.5 445.6v2.26 4.52 4.52 2.26M416.5 391.36v6.78 47.46M417.5 244.46v128.82 4.52 6.78 9.04 2.26 40.68 6.78 4.52 4.52 2.26 2.26M418.5 348.42v6.78 24.86 36.16 18.08 4.52 2.26 2.26 2.26M419.5 310v33.9 2.26 15.82 11.3 11.3 9.04 20.34 9.04 4.52 9.04 2.26 2.26 2.26 4.52M420.5 310v45.2 4.52 9.04 6.78 15.82 24.86 2.26 15.82 4.52 4.52 2.26M421.5 242.2v110.74 9.04 20.34 4.52 2.26 22.6 2.26 6.78 2.26 2.26 11.3 2.26 2.26 2.26 4.52 9.04M422.5 350.68v11.3 2.26 4.52 6.78 4.52 11.3 27.12 15.82 9.04 2.26 2.26M423.5 303.22v58.76 15.82 6.78 4.52 4.52 27.12 2.26 2.26 2.26 11.3 2.26 2.26 2.26 2.26 2.26M424.5 242.2v117.52 4.52 2.26 2.26 2.26 9.04 15.82 22.6 24.86 2.26 9.04M425.5 235.42v117.52 9.04 33.9 27.12 4.52 4.52 6.78 2.26 2.26 4.52 2.26M426.5 258.02v90.4 2.26 4.52 9.04 4.52 2.26 9.04 11.3 2.26 22.6 29.38M427.5 235.42v108.48 2.26 6.78 24.86 15.82 2.26 27.12 13.56 2.26 2.26 2.26 4.52M428.5 226.38v6.78 115.26 6.78 2.26 9.04 9.04 4.52 38.42M429.5 298.7v54.24 9.04 11.3 4.52 6.78 2.26 2.26 2.26 47.46 2.26 2.26 6.78M430.5 244.46v49.72 61.02 2.26 2.26 4.52 2.26 2.26 2.26 4.52 4.52 11.3 4.52 49.72M431.5 196.5v79.6 76.84 9.04 11.3 4.52 4.52 9.04 22.6 22.6 2.26 2.26 2.26 4.52 2.26M432.5 226.38v124.3 4.52 2.26 2.26 4.52 2.26 2.26 2.26 2.26 2.26 4.52 11.3 6.78 42.94 4.52 2.26 6.78M433.5 316.78v29.38 36.16 2.26 4.52 33.9 18.08 2.26 2.26 2.26 2.26 2.26M434.5 348.42v2.26 4.52 2.26 2.26 4.52 2.26 2.26 2.26 4.52 4.52 11.3 2.26 36.16 13.56 2.26 2.26 2.26M435.5 244.46v2.26 97.18 2.26 6.78 9.04 11.3 4.52 6.78 2.26 2.26 24.86 6.78 2.26 4.52 11.3 2.26 2.26 4.52M436.5 251.24v97.18 2.26 9.04 4.52 2.26 2.26 6.78 4.52 15.82 45.2 2.26 2.26 15.82M437.5 341.64v2.26 2.26 6.78 9.04 31.64 2.26 31.64 13.56 6.78 2.26 2.26M438.5 314.52v33.9 2.26 4.52 2.26 2.26 4.52 2.26 2.26 2.26 47.46 15.82 13.56 2.26 4.52M439.5 260.28v42.94 40.68 2.26 6.78 38.42 2.26 24.86 2.26 2.26 4.52 4.52 4.52 2.26 9.04 2.26M440.5 289.66v38.42 22.6 4.52 2.26 2.26 6.78 2.26 2.26 4.52 42.94 11.3 20.34 4.52M441.5 242.2v103.96 6.78 9.04 15.82 15.82 27.12 6.78 4.52 6.78 2.26 2.26 6.78M442.5 303.22v18.08 18.08 6.78 2.26 2.26 4.52 2.26 2.26 4.52 2.26 2.26 2.26 4.52 4.52 11.3 4.52 33.9 4.52 11.3 6.78M443.5 233.16v9.04 4.52 85.88 6.78 2.26 2.26 2.26 27.12 13.56 27.12 11.3 2.26 9.04 2.26 2.26 6.78M444.5 291.92v58.76 4.52 4.52 6.78 9.04 40.68 13.56 15.82 9.04M445.5 126.94v117.52 97.18 11.3 9.04 11.3 4.52 9.04 2.26 27.12 6.78 4.52 9.04 2.26 2.26 2.26 2.26 2.26 2.26 2.26M446.5 239.94v6.78 18.08 85.88 4.52 9.04 2.26 2.26 6.78 9.04 45.2 6.78 2.26 4.52 2.26 22.6M447.5 341.64v2.26 9.04 9.04 11.3 4.52 4.52 2.26 4.52 2.26 2.26 22.6 2.26 18.08 2.26 2.26 2.26 4.52 2.26 2.26M448.5 152.5v98.74 76.84 11.3 24.86M449.5 251.24v90.4 4.52 6.78 20.34 4.52 4.52 2.26 2.26 2.26 47.46 2.26 2.26 2.26M450.5 359.72v4.52 6.78 4.52 4.52M451.5 303.22v70.06 11.3 2.26 27.12 9.04 2.26 11.3 2.26 2.26 6.78M452.5 350.68v4.52 2.26 2.26 6.78 9.04 54.24M453.5 319.04v13.56 11.3 2.26 6.78 9.04 4.52 6.78 2.26 9.04 2.26 27.12 6.78 4.52 2.26 9.04 2.26 2.26 2.26 4.52 2.26 64.38M454.5 122.42v4.52 223.74 4.52 4.52 4.52 2.26 2.26 2.26 18.08 24.86 20.34M455.5 346.16v4.52 2.26 9.04 11.3 4.52 4.52 4.52 6.78 2.26 31.64 13.56 2.26 4.52 2.26 2.26M456.5 147.28v201.14 2.26 2.26 2.26 2.26 2.26 4.52 2.26 2.26 2.26 4.52 13.56 27.12 2.26 11.3 11.3 2.26 2.26 9.04M457.5 242.2v11.3 72.32 9.04 9.04 2.26 6.78 9.04 24.86 29.38 6.78 4.52 9.04 4.52 2.26 4.52 9.04M458.5 246.72v103.96 6.78 2.26 4.52 2.26 2.26 2.26 4.52 11.3 47.46 6.78 4.52 2.26M459.5 310v42.94 6.78 2.26 11.3 4.52 45.2 15.82 2.26 2.26 2.26 2.26 2.26 2.26M460.5 248.98v51.98 49.72 6.78 2.26 4.52 2.26 2.26 2.26 4.52 13.56 27.12 13.56 11.3 2.26 2.26 2.26 18.08M461.5 242.2v11.3 92.66 2.26 13.56 11.3 4.52 4.52 6.78 31.64 4.52 2.26 9.04 2.26 2.26 2.26 2.26 2.26 2.26 2.26M462.5 242.2v103.96 2.26 2.26 4.52 2.26 2.26 4.52 2.26 2.26 2.26 2.26 15.82 24.86 2.26 13.56 9.04 2.26 4.52M463.5 341.64v11.3 33.9 31.64 2.26 6.78 4.52 4.52 6.78 4.52 2.26 2.26M464.5 235.42v115.26 4.52 13.56 2.26 4.52 11.3 29.38 29.38 4.52M465.5 203.78v49.72 45.2 22.6 15.82 4.52 4.52 2.26 2.26 2.26 9.04 11.3 4.52 36.16 11.3 6.78 6.78 2.26 2.26 4.52 2.26M466.5 348.42v2.26 4.52 2.26 6.78 2.26 2.26 2.26 4.52 13.56 27.12 2.26 22.6 4.52 4.52M467.5 237.68v15.82 51.98 24.86 11.3 4.52 6.78 9.04 11.3 9.04 24.86 2.26 4.52 9.04 13.56 2.26 2.26 2.26M468.5 242.2v85.88 20.34 2.26 6.78 2.26 6.78 2.26 2.26 4.52 42.94 20.34 2.26 2.26 2.26 2.26M469.5 352.94v20.34 4.52 6.78 4.52 2.26 27.12 2.26 15.82 2.26 2.26 2.26 4.52 4.52 4.52M470.5 267.06v24.86 9.04 47.46 2.26 4.52 2.26 2.26 9.04 2.26 4.52 40.68 2.26 24.86 2.26M471.5 233.16v113 6.78 9.04 6.78 4.52 4.52 4.52 2.26 27.12 11.3 2.26 6.78 4.52 2.26 2.26 2.26 4.52M472.5 233.16v13.56 58.76 42.94 2.26 15.82 2.26 2.26 42.94 4.52 22.6 4.52M473.5 346.16v15.82 11.3 4.52 9.04 2.26 24.86 6.78 11.3 6.78 2.26 2.26 2.26 2.26 2.26 6.78M474.5 242.2v2.26 103.96 9.04 2.26 9.04 6.78 40.68 2.26 27.12M475.5 330.34v13.56 2.26 36.16 4.52 24.86 2.26 6.78 4.52 11.3 2.26 2.26 6.78 11.3M476.5 300.96v47.46 2.26 15.82 2.26 2.26 4.52 40.68 2.26 15.82 4.52 6.78 2.26M477.5 312.26v13.56 9.04 11.3 27.12 4.52 9.04 6.78 27.12 15.82 2.26 2.26 6.78 4.52M478.5 348.42v6.78 2.26 9.04 9.04 4.52 33.9 15.82 4.52 2.26 4.52 4.52M479.5 330.34v2.26 2.26 9.04 9.04 20.34 13.56 33.9 6.78 4.52 4.52 4.52 2.26 4.52 2.26 2.26M480.5 339.38v31.64 9.04 65.54 2.26M481.5 319.04v13.56 2.26 9.04 2.26 15.82 11.3 4.52 9.04 27.12 13.56 11.3 2.26 2.26 2.26 2.26 2.26 2.26M482.5 339.38v9.04 2.26 9.04 6.78 13.56 33.9 2.26 18.08 9.04 2.26 2.26 2.26M483.5 323.56v54.24 4.52 2.26 22.6 2.26 22.6 4.52 2.26 2.26 2.26 2.26 2.26 2.26M484.5 212.82v36.16 90.4 11.3 6.78 2.26 6.78 67.8 6.78 4.52 4.52 11.3M485.5 233.16v97.18 4.52 2.26 4.52 4.52 27.12 4.52 4.52 2.26 27.12 2.26 22.6 2.26 2.26 2.26 6.78 2.26M486.5 203.78v42.94 74.58 29.38 4.52 2.26 2.26 4.52 2.26 2.26 6.78 38.42 2.26 20.34 6.78 2.26 18.08M487.5 310v42.94 31.64 24.86 2.26 24.86 2.26 2.26 2.26 4.52 2.26 6.78M488.5 350.68v4.52 9.04 27.12 20.34 4.52 2.26 11.3 13.56 2.26 6.78 2.26M489.5 235.42v97.18 2.26 6.78 2.26 2.26 6.78 20.34 11.3 22.6 2.26 15.82 6.78 6.78 2.26 2.26 2.26 2.26 2.26 9.04M490.5 228.64v122.04 4.52 4.52 4.52 4.52 2.26 4.52 4.52 24.86 13.56 15.82 6.78 4.52M491.5 319.04v15.82 9.04 9.04 61.02 22.6 4.52 2.26 4.52 2.26 2.26M492.5 359.72v74.58 11.3M493.5 352.94v9.04 22.6 22.6 6.78 13.56 4.52 4.52 2.26 2.26 2.26 2.26 2.26 2.26 2.26M494.5 233.16v117.52 4.52 2.26 11.3 38.42 9.04 18.08 2.26 9.04M495.5 233.16v81.36 63.28 6.78 2.26 36.16 4.52 9.04 2.26 2.26 2.26 2.26 2.26 2.26 2.26 14.12M496.5 350.68v4.52 2.26 9.04 9.04 4.52 36.16 13.56 4.52 2.26 2.26 6.78M497.5 314.52v31.64 27.12 4.52 4.52 2.26 20.34 2.26 2.26 15.82 9.04 2.26 2.26 2.26 2.26 4.52M498.5 233.16v99.44 15.82 9.04 2.26 20.34 31.64 6.78 15.82 11.3M499.5 228.64v13.56 103.96 6.78 9.04 49.72 13.56 6.78 2.26 2.26 2.26 2.26 2.26 4.52 2.26 2.26M500.5 348.42v2.26 4.52 4.52 4.52 2.26 63.28 4.52 2.26 2.26 4.52 2.26 2.26M501.5 239.94v61.02 22.6 58.76 6.78 24.86 2.26 6.78 2.26 11.3 2.26 2.26 2.26 2.26 2.26 2.26 2.26M502.5 321.3v6.78 27.12 36.16 22.6 2.26 2.26 15.82 4.52 6.78M503.5 341.64v2.26 18.08 15.82 4.52 27.12 2.26 2.26 6.78 4.52 6.78 6.78 2.26 2.26 4.52 2.26M504.5 310v47.46 2.26 31.64 24.86 2.26 15.82 9.04 2.26M505.5 341.64v20.34 27.12 4.52 2.26 27.12 2.26 2.26 9.04 2.26 2.26 2.26 4.52 2.26 2.26 4.52M506.5 230.9v108.48 11.3 6.78 2.26 6.78 2.26 20.34 27.12 2.26 11.3 4.52 6.78 4.52 9.04M507.5 246.72v135.6 6.78 2.26 22.6 6.78 15.82 2.26 2.26 2.26 2.26 2.26M508.5 127.5v112.44 72.32 22.6 15.82 4.52 4.52 6.78 2.26 2.26 42.94 2.26 2.26 11.3 6.78 2.26 4.52 2.26M509.5 325.82v4.52 13.56 18.08 11.3 9.04 2.26 4.52 20.34 2.26 11.3 2.26 6.78 4.52 2.26 2.26 2.26 2.26 2.26M510.5 328.08v4.52 6.78 15.82 9.04 2.26 2.26 11.3 9.04 40.68 2.26 2.26 9.04 2.26M511.5 246.72v106.22 9.04 11.3 4.52 6.78 6.78 2.26 20.34 13.56 4.52 4.52 2.26 2.26 2.26 4.52 4.52M512.5 244.46v106.22 13.56 4.52 6.78 4.52 33.9 20.34 11.3 2.26 6.78M513.5 244.46v128.82 4.52 4.52 4.52 2.26 4.52 22.6 4.52 11.3 4.52 2.26 2.26 2.26 4.52M514.5 348.42v6.78 2.26 9.04 4.52 24.86 20.34 18.08 2.26 9.04M515.5 255.76v81.36 45.2 4.52 27.12 6.78 2.26 4.52 4.52 4.52 2.26 2.26 2.26 2.26 2.26 2.26M516.5 350.68v4.52 2.26 11.3 2.26 4.52 9.04 2.26 24.86 2.26 4.52 15.82 4.52 2.26 2.26 2.26 18.08M517.5 260.28v133.34 2.26 27.12 4.52 4.52 4.52 2.26 2.26 2.26 4.52 4.52M518.5 321.3v27.12 2.26 4.52 4.52 4.52 2.26 2.26 22.6 2.26 22.6 2.26 15.82 4.52 2.26 4.52 9.04M519.5 319.04v6.78 11.3 36.16 4.52 6.78 2.26 2.26 29.38 6.78 6.78 4.52 2.26 4.52 2.26 2.26 4.52M520.5 339.38v15.82 61.02 13.56 15.82 24.86M521.5 258.02v74.58 11.3 18.08 20.34 6.78 31.64 4.52 6.78 4.52 6.78 6.78M522.5 321.3v18.08 9.04 2.26 4.52 2.26 2.26 4.52 11.3 18.08 22.6 2.26 11.3 4.52 2.26 2.26 6.78M523.5 337.12v15.82 9.04 31.64 4.52 2.26 20.34 2.26 4.52 4.52 4.52 2.26 2.26 2.26 6.78 2.26M524.5 255.76v92.66 9.04 11.3 29.38 20.34M525.5 239.94v103.96 29.38 4.52 11.3 4.52 2.26 18.08 6.78 18.08 2.26 2.26 4.52 11.3M526.5 271.58v49.72 27.12 6.78 13.56 2.26 20.34 38.42 4.52 6.78 2.26 2.26 2.26M527.5 346.16v27.12 4.52 11.3 42.94 4.52 2.26 2.26 2.26 4.52M528.5 258.02v90.4 2.26 13.56 24.86 27.12 2.26 15.82M529.5 258.02v88.14 6.78 9.04 11.3 9.04 2.26 4.52 4.52 2.26 18.08 22.6 2.26 2.26 2.26 4.52 2.26M530.5 348.42v6.78 2.26 9.04 2.26 11.3 36.16 2.26 13.56 2.26 2.26 9.04M531.5 255.76v90.4 15.82 20.34 11.3 22.6 15.82 4.52 2.26 2.26 2.26 4.52 2.26 6.78M532.5 260.28v2.26 85.88 2.26 4.52 15.82 27.12 18.08 18.08 6.78 2.26 2.26 2.26M533.5 341.64v4.52 6.78 9.04 11.3 13.56 2.26 4.52 20.34 9.04 9.04 4.52 2.26 2.26 2.26 4.52 2.26 2.26M534.5 258.02v90.4 70.06 15.82 6.78 4.52M535.5 314.52v15.82 4.52 2.26 15.82 9.04 11.3 13.56 6.78 2.26 27.12 4.52 4.52 4.52 2.26 2.26 2.26 4.52 2.26M536.5 416.22v13.56 4.52 4.52 6.78M537.5 307.74v27.12 9.04 70.06 22.6 2.26 9.04 2.26 2.26M538.5 316.78v22.6 31.64 20.34 29.38 2.26 6.78 4.52M539.5 352.94v31.64 9.04 2.26 18.08 9.04 9.04 4.52 2.26 2.26 6.78 2.26M540.5 314.52v42.94 2.26 6.78 9.04 4.52 18.08 47.46M541.5 337.12v24.86 11.3 4.52 4.52 2.26 2.26 36.16 4.52 9.04 2.26 2.26 2.26 4.52 2.26M542.5 359.72v9.04 2.26 9.04 18.08 18.08 2.26 20.34 4.52 2.26M543.5 382.32v11.3 2.26 29.38 2.26 11.3 2.26 2.26 4.52 4.52M544.5 371.02v20.34 6.78 47.46M545.5 276.1v54.24 22.6 31.64 11.3 27.12 2.26 2.26 9.04 2.26 2.26 2.26 2.26 2.26 2.26 2.26M546.5 398.14v2.26 15.82 2.26 18.08 9.04M547.5 343.9v29.38 11.3 2.26 2.26 4.52 2.26 24.86 15.82 2.26 2.26M548.5 355.2v4.52 9.04 11.3 15.82 38.42 2.26 2.26 6.78M549.5 393.62v2.26 24.86 6.78 4.52 4.52 2.26 2.26 2.26 4.52 2.26M550.5 258.02v90.4 6.78 4.52 9.04 2.26 4.52 4.52 11.3 6.78 2.26 18.08 11.3 4.52 9.04 2.26 4.52M551.5 255.76v90.4 40.68 2.26 2.26 29.38 2.26 4.52 9.04 2.26 2.26 2.26 4.52M552.5 237.68v101.7 24.86 6.78 27.12 18.08 2.26 27.12 4.52 23.38M553.5 251.24v79.1 6.78 36.16 4.52 4.52 2.26 2.26 6.78 2.26 20.34 11.3 9.04 2.26 2.26 2.26 2.26 2.26 2.26 2.26 4.52M554.5 339.38v11.3 6.78 9.04 4.52 27.12 36.16 4.52 6.78 2.26 2.26M555.5 334.86v38.42 4.52 4.52 11.3 2.26 2.26 20.34 2.26 4.52 2.26 4.52 4.52 2.26 2.26 2.26 2.26 2.26 2.26 2.26M556.5 251.24v113 11.3 4.52 61.02 4.52M557.5 244.46v90.4 38.42 9.04 4.52 2.26 4.52 6.78 24.86 2.26 9.04 2.26 2.26 2.26 4.52 2.26 2.26 4.52M558.5 244.46v94.92 9.04 2.26 9.04 6.78 2.26 2.26 24.86 24.86 13.56 4.52 2.26 4.52 2.26M559.5 242.2v83.62 11.3 15.82 9.04 15.82 18.08 24.86 4.52 11.3 2.26 2.26 2.26 4.52 2.26M560.5 355.2v4.52 6.78 9.04 70.06M561.5 282.88v79.1 11.3 15.82 31.64 4.52 11.3 2.26 2.26 2.26 4.52 2.26 2.26 4.52M562.5 350.68v13.56 2.26 4.52 4.52 4.52 40.68 9.04 9.04 6.78 9.04 6.78M563.5 258.02v83.62 20.34 11.3 4.52 6.78 38.42 15.82 2.26 2.26 4.52 2.26M564.5 258.02v97.18 2.26 6.78 2.26 4.52 9.04 54.24 6.78 4.52M565.5 352.94v20.34 4.52 4.52 2.26 47.46 4.52 2.26 2.26 2.26 6.78M566.5 359.72v6.78 2.26 49.72 11.3 4.52 11.3M567.5 343.9v18.08 11.3 9.04 2.26 2.26 33.9 2.26 2.26 6.78 4.52 2.26 2.26 2.26 4.52 2.26M568.5 242.2v2.26 110.74 4.52 4.52 2.26 2.26 2.26 9.04 2.26 36.16 11.3 4.52 11.3 2.26 2.26M569.5 352.94v20.34 6.78 2.26 49.72 4.52 2.26 2.26 2.26 4.52 2.26M570.5 242.2v2.26 94.92 11.3 4.52 2.26 2.26 4.52 6.78 47.46 15.82 11.3M571.5 239.94v74.58 29.38 9.04 9.04 15.82 4.52 33.9 20.34 2.26 2.26 2.26 4.52 2.26 2.26M572.5 312.26v36.16 2.26 4.52 2.26 2.26 4.52 2.26 2.26 45.2 4.52 11.3 6.78 4.52 4.52 2.26 13.56M573.5 323.56v6.78 2.26 2.26 6.78 2.26 2.26 6.78 9.04 15.82 36.16 9.04 13.56 2.26 2.26 2.26 4.52 2.26 6.78 2.26M574.5 339.38v11.3 4.52 2.26 2.26 4.52 2.26 13.56 2.26 29.38 4.52 18.08 2.26 2.26 2.26 4.52M575.5 332.6v9.04 2.26 2.26 6.78 9.04 13.56 33.9 2.26 15.82 11.3 2.26 2.26 4.52M576.5 339.38v9.04 2.26 4.52 11.3 9.04 29.38 24.86 4.52 6.78 4.52M577.5 314.52v27.12 2.26 2.26 6.78 9.04 4.52 2.26 38.42 4.52 2.26 9.04 4.52 9.04 2.26 2.26 2.26 4.52M578.5 339.38v9.04 2.26 4.52 2.26 2.26 4.52 2.26 2.26 6.78 2.26 29.38 2.26 20.34 9.04 2.26 4.52M579.5 242.2v58.76 22.6 18.08 2.26 6.78 2.26 9.04 11.3 4.52 47.46 6.78 4.52 2.26 2.26 2.26M580.5 244.46v94.92 9.04 2.26 4.52 2.26 2.26 6.78 2.26 6.78 42.94 18.08 4.52 2.26 2.26M581.5 233.16v92.66 18.08 9.04 9.04 11.3 4.52 31.64 18.08 4.52 4.52 2.26 2.26 2.26 4.52M582.5 230.9v117.52 2.26 4.52 2.26 2.26 4.52 4.52 2.26 6.78 33.9 22.6 6.78 4.52 15.82M583.5 346.16v6.78 24.86 31.64 13.56 4.52 4.52 2.26 2.26 2.26 2.26 2.26 4.52M584.5 316.78v22.6 18.08 6.78 2.26 2.26 2.26 6.78 38.42 2.26 27.12M585.5 242.2v81.36 11.3 2.26 36.16 2.26 29.38 2.26 6.78 13.56 4.52 2.26 2.26 2.26 2.26 2.26 4.52M586.5 242.2v79.1 27.12 6.78 9.04 2.26 4.52 4.52 2.26 33.9 4.52 18.08 6.78 4.52 9.04M587.5 319.04v4.52 18.08 4.52 27.12 36.16 2.26 11.3 4.52 9.04 2.26 4.52M588.5 348.42v58.76 9.04 2.26 15.82 4.52 6.78M589.5 196.5v36.66 4.52 99.44 15.82 9.04 49.72 20.34 4.52 2.26 2.26 2.26 2.26M590.5 364.24v4.52 11.3 49.72 4.52 9.04 2.26M591.5 239.94v122.04 15.82 29.38 2.26 4.52 6.78 2.26 2.26 2.26 9.04 4.52 2.26 4.52M592.5 242.2v106.22 2.26 4.52 4.52 4.52 2.26 2.26 2.26 6.78 31.64 24.86 11.3M593.5 310v31.64 4.52 6.78 9.04 45.2 2.26 2.26 2.26 9.04 9.04 4.52 2.26 2.26 2.26 4.52M594.5 242.2v4.52 4.52 58.76 29.38 9.04 2.26 6.78 2.26 4.52 2.26 2.26 2.26 4.52 33.9 24.86 11.3M595.5 235.42v101.7 4.52 11.3 9.04 11.3 2.26 36.16 24.86 2.26 2.26 2.26 4.52 2.26M596.5 305.48v45.2 4.52 2.26 2.26 4.52 4.52 65.54 6.78 4.52M597.5 343.9v11.3 6.78 11.3 2.26 31.64 4.52 9.04 13.56 2.26 2.26 2.26 2.26 2.26 2.26 2.26 2.26M598.5 235.42v99.44 4.52 15.82 2.26 2.26 4.52 2.26 2.26 6.78 58.76 2.26 9.04M599.5 242.2v94.92 4.52 2.26 2.26 6.78 20.34 2.26 2.26 29.38 15.82 4.52 4.52 2.26 2.26 2.26 2.26 2.26 4.52 2.26 2.26M600.5 214.5v124.88 11.3 4.52 2.26 6.78 2.26 2.26 6.78 29.38 11.3 13.56 4.52 2.26 9.04M601.5 237.68v4.52 88.14 6.78 4.52 2.26 2.26 6.78 20.34 33.9 2.26 11.3 2.26 2.26 2.26 4.52 4.52 2.26 2.26 2.26 2.26 2.26 4.52M602.5 230.9v18.08 72.32 18.08 15.82 9.04 11.3 58.76 6.78 4.52M603.5 332.6v4.52 4.52 2.26 2.26 6.78 9.04 6.78 4.52 36.16 2.26 24.86 2.26 2.26 2.26 2.26 2.26M604.5 339.38v9.04 2.26 4.52 2.26 9.04 2.26 6.78 36.16 33.9M605.5 319.04v22.6 2.26 2.26 11.3 18.08 29.38 6.78 2.26 6.78 2.26 2.26 13.56 2.26 2.26 4.52 2.26M606.5 239.94v81.36 18.08 9.04 2.26 4.52 2.26 2.26 4.52 2.26 2.26 2.26 36.16 22.6 4.52 9.04 2.26 2.26M607.5 251.24v83.62 2.26 9.04 27.12 40.68 13.56 13.56 2.26 4.52M608.5 228.64v88.14 22.6 9.04 2.26 4.52 2.26 2.26 4.52 2.26 2.26 61.02 4.52 11.3 2.26 6.78M609.5 323.56v20.34 2.26 6.78 20.34 6.78 29.38 2.26 11.3 2.26 6.78 2.26 2.26 2.26 2.26 2.26 2.26 2.26M610.5 328.08v20.34 2.26 6.78 2.26 4.52 2.26 2.26 6.78 54.24 4.52 11.3M611.5 307.74v18.08 4.52 2.26 2.26 18.08 9.04 11.3 4.52 31.64 2.26 9.04 11.3 2.26 2.26 2.26 2.26 2.26 2.26 2.26 2.26M612.5 210.56v94.92 15.82 6.78 11.3 11.3 4.52 4.52 4.52 2.26 2.26 11.3 2.26 36.16 27.12M613.5 186.5v123.5 20.34 2.26 2.26 2.26 15.82 9.04 11.3 36.16 2.26 2.26 11.3 2.26 9.04 2.26 2.26 2.26 6.78 9.04M614.5 334.86v4.52 9.04 2.26 2.26 2.26 2.26 6.78 2.26 2.26 9.04 2.26 33.9 4.52 15.82 2.26 4.52 4.52M615.5 237.68v11.3 70.06 13.56 4.52 9.04 6.78 11.3 9.04 6.78 29.38 4.52 9.04 4.52 6.78 2.26 2.26 2.26 2.26 4.52 2.26M616.5 348.42v2.26 4.52 2.26 6.78 2.26 2.26 6.78 4.52 2.26 33.9 18.08 6.78 4.52M617.5 248.98v6.78 88.14 2.26 27.12 11.3 47.46 4.52 2.26 2.26 6.78 4.52 4.52M618.5 228.64v88.14 11.3 9.04 2.26 9.04 2.26 2.26 2.26 2.26 2.26 4.52 2.26 4.52 4.52 2.26 36.16 2.26 2.26 11.3 4.52 11.3 2.26M619.5 332.6v2.26 2.26 6.78 2.26 6.78 24.86 29.38 2.26 2.26 20.34 4.52 2.26 2.26 2.26 4.52M620.5 348.42v2.26 13.56 2.26 2.26 6.78 42.94 11.3 11.3 2.26 2.26 2.26M621.5 332.6v2.26 27.12 45.2 2.26 27.12 2.26 2.26 2.26 2.26 6.78 4.52M622.5 339.38v18.08 2.26 11.3 4.52 40.68 2.26 22.6 4.52 9.04M623.5 343.9v2.26 31.64 31.64 2.26 9.04 4.52 11.3 2.26 2.26 2.26 4.52 2.26M624.5 319.04v20.34 9.04 6.78 2.26 2.26 4.52 2.26 9.04 4.52 65.54M625.5 246.72v90.4 4.52 2.26 2.26 6.78 9.04 11.3 2.26 36.16 2.26 9.04 13.56 2.26 2.26 2.26 4.52 2.26 2.26M626.5 316.78v22.6 6.78 2.26 6.78 11.3 2.26 11.3 33.9 15.82 4.52 2.26 6.78 2.26M627.5 334.86v2.26 4.52 2.26 2.26 15.82 11.3 4.52 36.16 22.6 2.26 2.26 2.26 4.52 2.26 2.26M628.5 312.26v42.94 2.26 2.26 4.52 15.82 29.38 2.26 6.78 15.82 11.3M629.5 244.46v70.06 27.12 4.52 65.54 20.34 4.52 4.52 11.3M630.5 242.2v97.18 9.04 6.78 2.26 2.26 4.52 2.26 2.26 6.78 31.64 27.12M631.5 248.98v76.84 11.3 6.78 2.26 6.78 20.34 33.9 4.52 2.26 18.08 2.26 4.52 2.26 2.26 4.52M632.5 156.32v76.84 15.82 79.1 11.3 9.04 11.3 6.78 2.26 2.26 4.52 33.9 24.86 11.3 9.04 15.82M633.5 337.12v4.52 4.52 6.78 9.04 11.3 33.9 2.26 13.56 2.26 6.78 2.26 2.26 2.26 2.26 2.26 4.52 2.26 2.26M634.5 237.68v101.7 18.08 2.26 6.78 4.52 4.52 40.68 2.26 11.3 4.52 2.26 9.04M635.5 251.24v90.4 2.26 2.26 6.78 9.04 15.82 29.38 2.26 2.26 20.34 2.26 2.26 2.26 2.26 2.26 2.26 2.26 2.26M636.5 244.46v94.92 9.04 2.26 4.52 9.04 4.52 36.16 29.38 4.52 2.26 2.26 2.26 2.26 6.78M637.5 219.6v27.12 76.84 18.08 2.26 2.26 6.78 9.04 11.3 36.16 2.26 2.26 9.04 9.04 4.52 2.26 2.26 2.26 4.52M638.5 237.68v13.56 117.52 42.94 2.26 2.26 13.56 4.52 11.3M639.5 316.78v13.56 2.26 9.04 2.26 9.04 9.04 18.08 2.26 24.86 2.26 4.52 18.08 4.52 2.26 2.26 2.26 4.52M640.5 339.38v9.04 2.26 4.52 2.26 9.04 2.26 2.26 4.52 4.52 29.38 22.6 2.26 6.78 4.52M641.5 325.82v61.02 36.16 4.52 4.52 4.52 2.26 2.26 2.26 6.78M642.5 237.68v110.74 2.26 9.04 11.3 9.04 33.9 20.34 9.04 2.26M643.5 237.68v49.72 36.16 18.08 2.26 2.26 6.78 9.04 11.3 11.3 24.86 2.26 2.26 18.08 4.52 2.26 2.26 2.26 4.52 2.26M644.5 328.08v11.3 20.34 4.52 42.94 22.6 4.52 11.3M645.5 233.16v9.04 88.14 15.82 6.78 24.86 9.04 31.64 2.26 6.78 4.52 4.52 2.26 2.26 6.78 2.26 2.26 21.12M646.5 230.9v117.52 6.78 4.52 4.52 2.26 9.04 4.52 54.24 11.3M647.5 244.46v90.4 6.78 2.26 9.04 24.86 9.04 22.6 2.26 2.26 9.04 2.26 2.26 4.52 2.26 2.26 2.26 2.26 2.26 4.52 2.26 2.26M648.5 305.48v42.94 2.26 4.52 2.26 2.26 6.78 2.26 49.72 13.56 2.26 6.78 4.52M649.5 239.94v101.7 2.26 2.26 6.78 9.04 20.34 38.42 11.3 4.52 2.26 2.26 2.26 4.52 2.26M650.5 242.2v97.18 11.3 6.78 2.26 4.52 4.52 45.2 4.52 15.82 11.3M651.5 337.12v4.52 11.3 9.04 20.34 2.26 4.52 24.86 6.78 2.26 2.26 6.78 4.52 2.26 2.26 2.26 4.52 2.26 2.26M652.5 348.42v11.3 4.52 2.26 22.6 56.5 2.26 18.64M653.5 233.16v2.26 9.04 74.58 4.52 9.04 2.26 9.04 9.04 9.04 11.3 15.82 31.64 2.26 9.04 6.78 2.26 2.26 4.52 4.52M654.5 248.98v2.26 103.96 2.26 9.04 2.26 2.26 18.08 22.6 6.78 11.3 4.52 6.78 4.52M655.5 337.12v9.04 15.82 11.3 15.82 36.16 11.3 2.26 2.26 2.26 4.52M656.5 242.2v4.52 92.66 15.82 2.26 6.78 2.26 4.52 20.34 24.86 13.56 9.04 4.52 2.26M657.5 330.34v81.36 2.26 22.6 2.26 2.26 2.26M658.5 221.86v126.56 18.08 2.26 6.78 4.52 9.04 56.5M659.5 332.6v2.26 27.12 20.34 4.52 45.2 4.52 2.26 2.26 2.26 4.52 9.04 2.26M660.5 312.26v27.12 9.04 6.78 4.52 9.04 2.26 9.04 31.64 4.52 13.56 15.82 22.6M661.5 242.2v56.5 27.12 4.52 15.82 6.78 20.34 15.82 24.86 11.3 6.78 2.26 2.26 2.26 2.26 2.26 4.52M662.5 307.74v20.34 6.78 20.34 11.3 2.26 6.78 40.68 18.08M663.5 319.04v4.52 9.04 4.52 4.52 2.26 2.26 15.82 24.86 4.52 27.12 2.26 2.26 9.04 2.26 2.26 2.26 2.26 6.78 11.3M664.5 328.08v22.6 4.52 2.26 2.26 9.04 54.24 11.3 2.26 9.04M665.5 314.52v18.08 4.52 6.78 2.26 6.78 29.38 6.78 29.38 2.26 2.26 9.04 4.52 2.26 2.26 2.26M666.5 339.38v11.3 6.78 2.26 20.34 36.16 2.26 11.3 2.26 2.26 11.3M667.5 233.16v4.52 81.36 13.56 2.26 18.08 29.38 2.26 2.26 24.86 2.26 11.3 4.52 2.26 4.52 2.26 2.26 2.26 4.52M668.5 246.72v65.54 54.24 47.46 15.82 2.26 2.26 11.3M669.5 237.68v94.92 29.38 15.82 4.52 4.52 38.42 6.78 4.52 2.26 2.26 6.78 2.26M670.5 310v18.08 38.42 2.26 6.78 4.52 29.38 20.34 4.52M671.5 314.52v22.6 4.52 20.34 15.82 6.78 2.26 27.12 13.56 4.52 4.52 2.26 2.26 6.78 4.52M672.5 350.68v6.78 2.26 9.04 49.72 15.82 11.3M673.5 230.9v101.7 4.52 6.78 38.42 4.52 29.38 15.82 4.52 2.26 2.26 2.26M674.5 312.26v15.82 11.3 9.04 2.26 9.04 6.78 9.04 9.04 27.12 2.26 2.26 13.56 4.52 2.26 9.04M675.5 323.56v13.56 4.52 2.26 18.08 20.34 2.26 22.6 2.26 13.56 4.52 4.52 4.52 2.26 2.26 2.26 4.52 4.52M676.5 339.38v9.04 11.3 4.52 11.3 4.52 6.78 29.38 13.56 4.52 6.78 2.26 2.26 15.82M677.5 248.98v58.76 29.38 15.82 29.38 2.26 24.86 2.26 11.3 2.26 6.78 4.52 2.26 2.26 2.26 4.52 2.26M678.5 215.08v94.92 40.68 6.78 2.26 4.52 2.26 18.08 2.26 47.46 20.34M679.5 307.74v22.6 2.26 2.26 2.26 9.04 15.82 18.08 51.98 2.26 2.26 2.26 2.26 2.26 4.52 2.26 2.26M680.5 339.38v9.04 11.3 4.52 15.82 2.26 47.46 4.52 11.3M681.5 334.86v2.26 4.52 2.26 2.26 27.12 4.52 29.38 2.26 18.08 11.3 2.26 2.26 4.52M682.5 348.42v2.26 6.78 6.78 2.26 2.26 2.26 36.16 27.12 11.3M683.5 352.94v9.04 76.84M684.5 357.46v42.94 2.26 2.26M685.5 361.98v38.42 24.86M686.5 355.2v42.94 36.16M687.5 346.16v15.82M688.5 348.42v4.52 2.26 79.1M689.5 319.04v15.82 2.26 9.04 6.78 2.26 38.42 2.26 13.56 22.6 9.04M690.5 200.5v150.18 4.52 42.94 18.08 2.26M691.5 332.6v135.6M692.5 194.74v63.28 15.82 76.84 6.78 2.26 38.42 2.26 61.02M693.5 230.9v9.04 101.7 2.26 11.3 47.46 2.26 2.26 13.56 2.26 4.52M694.5 202.5v64.56 4.52 76.84 2.26 4.52 2.26 40.68 2.26M695.5 280.62v49.72 67.8 9.04 15.82 2.26 31.64M696.5 348.42v6.78 2.26 45.2 15.82M697.5 230.9v15.82 22.6 4.52 88.14 45.2 2.26 4.52 6.78 18.08 4.52M698.5 280.62v70.06 6.78 2.26 40.68 2.26M699.5 177.5v60.18 33.9 90.4 45.2 18.08 15.82M700.5 276.1v79.1 4.52 4.52 38.42 2.26M701.5 273.84v4.52 54.24 20.34 9.04 47.46 2.26 20.34 6.78M702.5 350.68v6.78 2.26 4.52 2.26 36.16 2.26M703.5 175.5v53.14 47.46 58.76 9.04 9.04 15.82 40.68 4.52 27.12M704.5 226.38v142.38 40.68 2.26M705.5 198.5v163.48 15.82 4.52 2.26 33.9 2.26 15.82 2.26 2.26M706.5 230.9v6.78 42.94 83.62 11.3 4.52 9.04 40.68 4.52 11.3M707.5 129.2v223.74 9.04 24.86 45.2 6.78 2.26 2.26 23.16M708.5 184.5v93.86 90.4 22.6 36.16 18.08M709.5 235.42v29.38 2.26 9.04 2.26 6.78 61.02 6.78 20.34 4.52 6.78 2.26 40.68 4.52 6.78 2.26 2.26M710.5 217.34v9.04 124.3 4.52 4.52 4.52 2.26 18.08 2.26 42.94 4.52M711.5 228.64v45.2 79.1 31.64 2.26 42.94 2.26 4.52 4.52 2.26M712.5 282.88v38.42 6.78 20.34 22.6 4.52 13.56 40.68 4.52 11.3M713.5 237.68v27.12 119.78 2.26 36.16 2.26M714.5 319.04v29.38 15.82 11.3 54.24 4.52 11.3M715.5 244.46v15.82 6.78 4.52 24.86 56.5 33.9 40.68 4.52 4.52 2.26 4.52M716.5 228.64v36.16 74.58 11.3 4.52 2.26 18.08 15.82 38.42 4.52 65.54M717.5 352.94v29.38 6.78 2.26 33.9 2.26 4.52 4.52 2.26M718.5 310v45.2 4.52 9.04 11.3 51.98 2.26M719.5 203.78v83.62 49.72 45.2 4.52 6.78 2.26 36.16M720.5 233.16v56.5 15.82 45.2 6.78 2.26 6.78 2.26 2.26 4.52 15.82 36.16 2.26 4.52M721.5 346.16v6.78 29.38 2.26 2.26 38.42 2.26 9.04 2.26M722.5 328.08v27.12 2.26 13.56 15.82 47.46M723.5 303.22v31.64 9.04 29.38 13.56 2.26 38.42 9.04 2.26 2.26 2.26 4.52M724.5 253.5v45.2 20.34 29.38 2.26 4.52 2.26 2.26 4.52 2.26 2.26 2.26 4.52 42.94 2.26 9.04 4.52 4.52 11.3 16.38M725.5 343.9v2.26 27.12 13.56 6.78 27.12 22.6 4.52 2.26 2.26M726.5 348.42v2.26 6.78 9.04 2.26 2.26 47.46 2.26 24.86 6.78 2.26M727.5 319.04v22.6 11.3 9.04 11.3 15.82 33.9 4.52 4.52 6.78 2.26 2.26 4.52 2.26 2.26M728.5 233.16v56.5 13.56 36.16 9.04 2.26 9.04 11.3 9.04 11.3 24.86 2.26 11.3 4.52 11.3 9.04 11.3M729.5 255.76v106.22 24.86 6.78 2.26 24.86 4.52 2.26 9.04 2.26 2.26 2.26 4.52 2.26 2.26M730.5 359.72v9.04 2.26 15.82 29.38 2.26 27.12 2.26 4.52M731.5 361.98v15.82 9.04 24.86 2.26 13.56 6.78 2.26 2.26 2.26 2.26 4.52 2.26 2.26M732.5 203.78v122.04 22.6 2.26 4.52 4.52 6.78 13.56 11.3 27.12 11.3 4.52 4.52 6.78M733.5 278.36v65.54 2.26 6.78 9.04 27.12 2.26 24.86 4.52 15.82 2.26 2.26 2.26 4.52 2.26 2.26M734.5 350.68v4.52 4.52 4.52 2.26 4.52 54.24 20.34 2.26 18.64M735.5 233.16v9.04 83.62 9.04 9.04 2.26 6.78 20.34 11.3 4.52 24.86 6.78 2.26 9.04 4.52 2.26 2.26 2.26 2.26 2.26 2.26M736.5 355.2v2.26 6.78 2.26 2.26 45.2 4.52 11.3 4.52 2.26 2.26 2.26 2.26 2.26 4.52M737.5 253.5v88.14 4.52 15.82 20.34 36.16 4.52 2.26 2.26 9.04 2.26 2.26 2.26 4.52 2.26M738.5 348.42v2.26 4.52 2.26 2.26 4.52 2.26 4.52 4.52 9.04 24.86 2.26 22.6 11.3 2.26M739.5 346.16v27.12 9.04 2.26 4.52 27.12 2.26 13.56 4.52 2.26 2.26 2.26 2.26 2.26 2.26 2.26M740.5 348.42v9.04 2.26 4.52 2.26 2.26 15.82 33.9 15.82 6.78 4.52 2.26M741.5 196.5v111.24 36.16 2.26 15.82 11.3 9.04 2.26 2.26 24.86 2.26 6.78 6.78 4.52 4.52 2.26 2.26 2.26 2.26 2.26 2.26M742.5 237.68v110.74 22.6 45.2 2.26 15.82 11.3 2.26M743.5 210.56v108.48 15.82 18.08 9.04 11.3 9.04 2.26 2.26 33.9 4.52 2.26 4.52 4.52 2.26 2.26 2.26 4.52 2.26M744.5 255.76v92.66 2.26 6.78 6.78 4.52 2.26 4.52 9.04 45.2 4.52 4.52 4.52 2.26 2.26M745.5 341.64v11.3 9.04 11.3 11.3 2.26 24.86 2.26 6.78 2.26 2.26 2.26 9.04 2.26 2.26 2.26 4.52M746.5 350.68v4.52 2.26 6.78 20.34 45.2 4.52 2.26 9.04M747.5 334.86v27.12 11.3 9.04 24.86 24.86 4.52 2.26 2.26 2.26M748.5 348.42v2.26 4.52 2.26 6.78 2.26 2.26 2.26 4.52 54.24 15.82M749.5 330.34v42.94 11.3 4.52 33.9 9.04 4.52 2.26 2.26 2.26 2.26 2.26 2.26 2.26 4.52M750.5 235.42v9.04 103.96 2.26 9.04 6.78 2.26 2.26 9.04 4.52 2.26 27.12 15.82 4.52 9.04 2.26M751.5 242.2v83.62 20.34 15.82 15.82 6.78 29.38 6.78 4.52 2.26 4.52 4.52 2.26 2.26 2.26 4.52M752.5 196.5v151.92 2.26 20.34 4.52 4.52 6.78 47.46 11.3 2.26M753.5 319.04v4.52 6.78 2.26 13.56 15.82 11.3 4.52 4.52 2.26 2.26 31.64 2.26 6.78 4.52 4.52 6.78 4.52 2.26M754.5 348.42v6.78 2.26 6.78 2.26 2.26 2.26 4.52 4.52 11.3 24.86 29.38M755.5 255.76v2.26 83.62 31.64 45.2 2.26 6.78 4.52 4.52 6.78 2.26 2.26 2.26 2.26M756.5 355.2v2.26 6.78 6.78 4.52 15.82 24.86 2.26 15.82 2.26 9.04M757.5 200.5v41.7 99.44 31.64 20.34 33.9 9.04 6.78 4.52M758.5 244.46v4.52 65.54 13.56 20.34 6.78 2.26 9.04 9.04 13.56 29.38 27.12M759.5 300.96v18.08 4.52 29.38 20.34 13.56 2.26 2.26 24.86 11.3 4.52 4.52 2.26 2.26 2.26 2.26 2.26 2.26 9.04M760.5 359.72v6.78 2.26 2.26 18.08 27.12 29.38 2.26M761.5 361.98v11.3 11.3 36.16 2.26 2.26 11.3 4.52 2.26 2.26 2.26 2.26 2.26M762.5 314.52v42.94 2.26 4.52 2.26 4.52 45.2 2.26 11.3 4.52 11.3M763.5 264.8v67.8 20.34 29.38 2.26 27.12 2.26 18.08 4.52 2.26 2.26 2.26 4.52 2.26 2.26M764.5 350.68v20.34 9.04 15.82 49.72 2.26 2.26 2.26 2.26M765.5 352.94v9.04 11.3 4.52 6.78 2.26 2.26 29.38 2.26 15.82 2.26 2.26 2.26 4.52 2.26 2.26 4.52M766.5 255.76v83.62 11.3 9.04 4.52 2.26 2.26 6.78 4.52 42.94 6.78 9.04 6.78 9.04M767.5 246.72v63.28 6.78 15.82 2.26 2.26 4.52 4.52 6.78 24.86 4.52 4.52 38.42 2.26 4.52 4.52 2.26 2.26 2.26 4.52 2.26 2.26 4.52M768.5 321.3v18.08 9.04 6.78 2.26 2.26 4.52 6.78 9.04 38.42 11.3 4.52 4.52 6.78 9.04 16.86M769.5 303.22v33.9 4.52 4.52 27.12 4.52 9.04 36.16 4.52 4.52 4.52 2.26 2.26 2.26 4.52 2.26 6.78M770.5 314.52v24.86 9.04 9.04 2.26 4.52 6.78 4.52 40.68 2.26 27.12M771.5 287.4v38.42 11.3 4.52 2.26 2.26 6.78 9.04 11.3 4.52 4.52 2.26 2.26 33.9 2.26 4.52 4.52 4.52 2.26 2.26 2.26 4.52 2.26 2.26M772.5 303.22v13.56 22.6 9.04 9.04 2.26 4.52 4.52 2.26 4.52 4.52 36.16 2.26 11.3 4.52 11.3 2.26M773.5 207.5v127.36 2.26 9.04 6.78 9.04 22.6 2.26 2.26 31.64 6.78 9.04 2.26 2.26 2.26 4.52 2.26 6.78M774.5 242.2v11.3 40.68 45.2 9.04 2.26 4.52 2.26 6.78 2.26 2.26 47.46 2.26 11.3 13.56 2.26 2.26 6.78M775.5 212.82v88.14 6.78 24.86 4.52 4.52 2.26 2.26 6.78 9.04 11.3 4.52 6.78 2.26 2.26 4.52 31.64 2.26 4.52 4.52 2.26 2.26 2.26 4.52 2.26 2.26 4.52 2.26M776.5 339.38v9.04 2.26 4.52 2.26 2.26 4.52 2.26 4.52 4.52 2.26 2.26 6.78 4.52 24.86 2.26 9.04 2.26 4.52 6.78 4.52 2.26 2.26 2.26 2.26 6.78 2.26M777.5 203.78v108.48 29.38 2.26 9.04 9.04 11.3 4.52 6.78 2.26 2.26 31.64 11.3 6.78 2.26 2.26 4.52 2.26 2.26 2.26 2.26M778.5 296.44v54.24 4.52 2.26 2.26 4.52 6.78 2.26 2.26 13.56 29.38 11.3 4.52 9.04 2.26 9.04M779.5 325.82v6.78 2.26 2.26 6.78 2.26 6.78 9.04 11.3 4.52 4.52 2.26 2.26 27.12 2.26 4.52 2.26 2.26 2.26 2.26 2.26 4.52 2.26 2.26 2.26 2.26 2.26 2.26 2.26 2.26 2.26" fill="none" stroke="none" marker-start="url(#c)" marker-mid="url(#c)" marker-end="url(#c)"/>
<path d="M171.5 404.92v1.58 .68 2.26 2.26 2.26 2.26 1.28 .98 1.02 1.24 2.26 2.26 1.24 1.02 4.52 4.52M172.5 398.14v2.26 2.26 2.26 4.52 2.26 2.26 2.26 2.26 2.26 2.26 6.78M173.5 407.18v2.26 2.26 2.26 6.78 2.26 2.26 2.26 4.52M174.5 402.66v2.26 2.26 2.26 2.26 2.26 2.26 2.26 2.26 .76 1.5 4.52 2.26 2.26 2.26 2.26 2.26 2.26M175.5 407.18v2.26 2.26 2.26 6.78 .76 1.5 2.26 1.24 1.02 4.52 1.46 3.06M176.5 402.66v2.26 4.52 2.26 2.26 2.26 2.26 2.26 2.26 4.52 2.26 2.26 2.26 1.2 1.06 2.26M177.5 404.92v2.26 2.26 2.26 2.26 6.78 2.26 2.26 2.26 4.52 4.52M178.5 411.7v2.26 2.26 2.26 2.26 9.04 4.52M179.5 409.44v2.26 2.26 6.78 2.26 2.26 2.26 4.52 3.46 1.06 2.26M180.5 402.66v2.26 11.3 2.26 11.3 4.52M181.5 407.18v2.26 2.26 2.26 2.26 1.28 .98 2.26 2.26 2.26 2.26 4.52 3.46 1.06M182.5 404.92v7.58 1.46 2.26 1.28 .98 2.26 3.76 2 3.28 .72 3.8M183.5 407.18v2.26 1.06 1.2 2.26 2.26 4.52 2.26 2.26 2.26 2.26 2.26 2.26 2.26 2.26 2.26M184.5 416.22v2.26 2.26 4.52 4.52 4.52M185.5 409.44v2.26 2.26 2.26 1.28 3.24 2.26 2.26 1.24 1.02 2.98 1.54 2.26 2.26 2.26 2.26 2.26M186.5 416.22v2.26 2.26 2.26 1.5 .76 2.26 2.26 2.26 1.46 .8 2.26 2.26 2.26 2.26 2.26M187.5 406.5v.68 2.26 1.06 1.2 .8 1.46 2.26 2.26 2.26 .76 1.5 2.26 2.26 2.26 1.72 .54 2.26 2.26 2.26M188.5 416.22v2.26 11.3 4.52 2.26 2.26M189.5 416.22v1.28 .98 2.26 2.26 2.26 1.24 1.02 4.52 2.26 2.26 2.26 .68 1.58 1.42 .84 1.16 1.1M190.5 411.7v2.26 2.26 2.26 6.02 2 1.02 2.26 4.52 9.04M191.5 413.96v6.78 2.26 1.5 .76 2.26 .98 2 1 .54 4.52 .94 1.32 1.68M192.5 410.5v1.2 2.26 2.26 2.26 2.26 1.76 .5 4.52 2.26 4.52 11.3M193.5 411.7v2.26 2.26 2.26 2.26 2.26 2.26 2.26 2.26 .72 1.54 2.26 2.26 2.26 2.26 2.26M194.5 409.44v6.06 .72 2.26 2.26 9.04 .72 3.8 4.52 2.26M195.5 417.5v.98 2.26 2.26 1.5 .76 2.26 4.52 4.52 .94 1.32 .68 1.58M196.5 413.96v2.26 2.26 2.26 1.76 .5 6.78 2.26 2.26 4.52M197.5 418.48v2.26 2.26 2.26 2.26 2.26 .72 1.54 2.26 1.2 1.06 2.26 .68 1.58 2.26 2.26M198.5 413.96v2.26 2.26 2.26 1.76 .5 2.26 2.26 2.26 2.26 2.26 2.26 2.26M199.5 413.96v4.52 2.26 2.26 2.26 2.26 4.52 2.26 2.26 2.26M200.5 413.96v2.26 2.26 2.26 4.52 2.26 .98 1.28 1.72 2.8M201.5 405.5v1.68 2.26 1.06 1.2 2.26 1.54 2.98 2.26 2.26 2.26 1.24 1.02 2.26 2.26M202.5 411.7v.8 3.72 2.26 3.02 3.76 4.52 2.26M203.5 407.18v2.26 2.26 2.26 2.26 4.52 2.26 2.26 2.26 2.26 2.26 2.26M204.5 404.92v2.26 2.26 2.26 2.26 2.26 2.26 2.26 2.26 2.26M205.5 407.18v2.26 2.26 2.26 3.54 2 1.24 2.26 2.26 2.26 2.26M206.5 400.4v2.26 2.26 4.52 6.78 2.26 4.52M207.5 404.92v.58 1.68 1.32 .94 2.26 2.26 2.26 3.28 1.24 .76M208.5 402.66v.84 1.42 3.58 .94 4.52 .54 1.72 2.26 1.02M209.5 403.5v3.68 2.26 2.26 2.26 4.52 2.26 1.76 .5M210.5 400.4v2.26 2.26 2.26 2.26 2.26 2.26 2.26 2.26 1.02 1.24 2.26 2.26 2.26 .98 1.28M211.5 393.62v2.26 9.04 1.58 .68 2.26 1.06 1.2 2.26 .54 6.24M212.5 400.4v2.26 2.26 2.26 2.26 2.26 2.26 2.26 2.26 1.02 1.24 .76 1.5 2.26M213.5 395.88v2.26 2.26 2.26 2.26 2.26 2.26 2.26 2.26 2.26M214.5 402.66v2.26 3.58 5.46 .54 1.72 2.26 1.02M215.5 402.66v2.26 2.26 2.26 2.26 2.26 2.26 2.26M216.5 404.92v2.26 4.52 .8 1.46 2.26 2.26 1.02 1.24M217.5 402.66v2.26 2.26 2.26 2.26 2.26 2.26 2.26 2.26 2.26M218.5 402.66v2.26 5.58 2 1.46 .54 1 .72 2.26 2.26M219.5 404.92v2.26 1.32 .94 2.26 2.26 1.54 2.98 2.26M220.5 404.92v11.3 2.26M221.5 394.5v1.38 2.26 2.26 2.26 2.26 2.26 2.26 2.26 2.26 .54 1.72M222.5 404.92v2.26 2.26 2.26 2.26 2.26 2.26 2.26M223.5 407.18v2.26 1.06 1.2 2.26 .54 3.98 2.26 2.26M224.5 400.4v2.26 2.26 4.52 4.52 .54 1.72 2.26M225.5 400.4v6.78 2.26 2.26 2.26 6.78 1.76 .5M226.5 409.44v2.26 2.26 1.54 .72 2.26 2.26 2.26 2.26 2.26 2.26M227.5 400.4v2.26 4.52 2.26 2.26 2.26 2.26M228.5 400.4v1.1 1.16 2.26 2.26 2.26 1.06 1.2 2.26 2.26 2.26 2.26 1.76M229.5 402.66v2.26 2.26 2.26 2.26 2.26 2.26 1.28 .98 2.26M230.5 410.5v5.72 2.26M231.5 403.5v1.42 2.26 2.26 2.26 2.26 2.26 2.26 2.26M232.5 402.66v2.26 2.26 6.78 2.26 2.26M233.5 404.92v2.26 1.32 .94 1.06 1.2 .8 1.46 2.26 1.28 .98 2.26M234.5 404.92v2.26 9.04 2.26 2.26M235.5 393.62v2.26 7.62 3.68 2.26 2.26 2.26 6.78 2.26 2.26M236.5 396.5v1.64 2.26 2.26 2.26 11.3 1.28 .98M237.5 405.5v1 .68 2.26 2.26 2.26M238.5 395.88v.62 1 .64 2.26 2.26 2.26 2.26 2.26 4.52M239.5 400.4v4.52 .58 1.68 2.26 2.26 2.26 1.54M240.5 395.88v2.26 2.26 2.26 2.26 6.78 .8 3.72M241.5 389.1v3.4 1.12 2.26 2.26 4.52 3.84 .68 1.32 .94M242.5 393.62v.88 1.38 2.26 1.36 .9 2.26 2.26 .58 1.68 2.26 2.26 2.26 2.26M243.5 393.62v2.26 2.26 4.52 2.26 2.26 2.26 2.26 2.26M244.5 398.14v2.26 2.26 2.26 4.52 6.78 2.26M245.5 389.1v2.26 1.14 1.12 2.26 7.62 1.42 2.26M246.5 398.14v1.36 .9 2.26 2.26 .58 1.68 3.32 1.2 2.26M247.5 400.4v6.1 .68 2.26 2.26 2.26M248.5 398.14v2.26 2.26 2.26 2.26 2.26 2.26 4.52 1.28 .98M249.5 404.92v2.26 2.26 2.26 2.26 2.26 2.26 2.26M250.5 398.14v2.26 2.26 2.26 4.52 2.26 4.52 2.26M251.5 399.5v3.16 2.26 .58 1.68 2.26 2.26 2.26 1.54 .72M252.5 402.66v.84 1.42 2.26 4.52 2.26 2.26 2.26 2.26M253.5 402.66v4.52 2.26 2.26 2.26 6.78 1.76M254.5 402.66v2.26 4.52 2.26 4.52 1.28 .98 2.26M255.5 399.5v.9 6.78 2.26 2.26 2.26 2.26 2.26 2.26M256.5 395.88v2.26 2.26 2.26 2.26 1.58 2 .94 2.26 2.8 1.72 2.26 2.26M257.5 402.66v2.26 2.26 2.26 2.26 2.26 2.26 2.26 2.26 2.26M258.5 398.14v2.26 2.26 2.26 2.26 2.26 4.52 2.26 2.26M259.5 398.14v4.52 .84 1.42 2.26 2.26 2.26 2.26 2.26 4.52 2.26 2.26 2.26M260.5 398.14v2.26 2.26 2.26 2.26 2.26 2.26 2.26 2.26 2.26 2.26 2.26M261.5 402.66v2.26 2.26 2.26 1.06 1.2 .8 1.46 .54 6.24 2.26M262.5 402.66v2.26 4.52 4.52 2.26 2.26M263.5 399.5v.9 4.52 1.58 .68 1.32 .94 2.26 2.26 2.26 2.26 2.26 2.26 2.26 2.26M264.5 402.66v2.26 4.52 5.06 1.72 2.26M265.5 402.66v2.26 2.26 2.26 2.26 2.26 4.52 2.26 2.26M266.5 398.14v2.26 1.1 1.16 2.26 2.26 7.32 1.72M267.5 398.14v2.26 4.52 .58 1.68 2.26 2.26 2.26 2.26 2.26M268.5 397.5v.64 2.26 2.26 2.26 .58 1 2.94 1.06 1.2 2.8 1 .72 2.26 3.02 1.5 4.52M269.5 404.92v.58 1.68 1.32 .94 1.06 1.2 2.26 4.52M270.5 398.14v1.36 .9 2.26 2.26 .58 3.94 2.26 2.26 2.26 2.26M271.5 395.88v2.26 2.26 2.26 4.52 2.26 2.26 2.26 6.78M272.5 402.66v2.26 5.58 2 3.72 2.26M273.5 400.4v2.26 2.26 .58 1 .68 1.32 .94 2.26 .8 1.46 2.26 2.26 2.26 1.76 .5M274.5 398.14v2.26 2.26 .84 1.42 .58 1.68 2.26 2.26 .8 3.72 2.26 2.26 2.26 1.5 .76 2.26M275.5 407.18v2.26 2.26 2.26 2.26 4.52 2.26 2.26M276.5 398.14v2.26 2.26 2.26 2.26 2.26 2.26 4.52 2.26 2.26M277.5 395.88v2.26 1.36 .9 2.26 2.26 .58 1.68 2.26 1.06 1.2 2.26 2.26 3.28 1.24 2.26 2.26 2.26M278.5 398.14v2.26 2.26 2.26 .58 3.94 2.26 2.26 2.26 2.26 2.26M279.5 402.66v2.84 1.68 2.26 2.26 2.26 2.26 2.26 2.26M280.5 402.66v2.26 2.26 1.32 .94 2.26 2.26 2.26 2.26 2.26 2.26M281.5 395.88v2.26 3.36 3.42 2.26 2.26 2.26 .8 1.46 2.26 2.26 2.26M282.5 400.4v2.26 2.26 1.58 .68 2.26 4.52 2.26 1.28 .98 2.26 2.26 2.26 2.26 2.26M283.5 393.62v2.26 4.52 3.1 3 .68 2.26 2.26 2.26 2.26 2.26 2.26 1.76 .5 2.26 2.26 3.98 .54 4.52M284.5 402.66v2.26 1.58 .68 6.78 2.26 2.26M285.5 402.66v4.52 2.26 2.26 2.26 6.78M286.5 400.4v2.26 .84 1.42 2.26 2.26 1.06 2 3.72 2.26 3.02M287.5 402.66v.84 1.42 2.26 2.26 2.26 2.26 6.78 2.26 1.5 .76 2.26M288.5 407.18v2.26 4.52 2.26 2.26 1.02 1.24 .76 1.5 2.26M289.5 400.4v2.26 2.26 2.26 2.26 2.26 2.26 .54 3.98 1.02 1.24 2.26 2.26 2.26M290.5 398.14v2.26 2.26 2.26 .58 10.72 2.26 4.52M291.5 402.66v2.26 2.26 2.26 2.26 2.26 2.26 2.26 2.26 2.26 2.26M292.5 402.66v.84 1.42 4.52 2.26 2.26 1.54 .72 2.26 1.02 1.24 .76 1.5M293.5 400.4v4.52 2.26 2.26 2.26 2.26M294.5 402.66v2.26 4.52 4.52 2.26 2.26M295.5 400.4v2.26 2.26 .58 1 .68 2.26 2.26 2.26 2.26 4.52 2.26 2.26 2.26M296.5 400.4v2.26 2.26 2.26 2.26 1.06 1.2 .8 1.46 .54 1.72 1.28 .98 2.26 .76 1.5M297.5 398.14v1.36 2 3.42 2.26 2.26 1.06 1.2 2.26 2.26M298.5 402.66v2.26 2.26 1.32 .94 6.78 2.26M299.5 401.5v5 .68 2.26 2.26 2.26 4.52 2.26 2.26M300.5 404.92v4.52 3.06 3.72 2.26 3.02 3.76M301.5 400.4v2.26 4.52 1.32 .94 2.26 2.26 2.26 2.26M302.5 398.14v2.26 2.26 2.26 6.78 2.26 2.26 2.26 6.78M303.5 409.44v2.26 2.26 4.52 2.26 .76 1.5 1.5M304.5 416.22v2.26M305.5 404.92v2.26 2.26 2.26 2.26 1.54 .72 2.26 2.26 2.26 1.5 .76 2.26M306.5 414.5v1.72 2.26M307.5 409.44v2.26 2.26 4.52 2.26 2.26 2.26M308.5 416.22v2.26 2.26 2.26 4.52M309.5 409.44v2.26 2.26 .54 3 3.24 2.26 2.26 2.26M310.5 413.96v2.26 2.26 2.26 2.26 2.26 2.26M311.5 395.88v2.26 9.04 2.26 2.26 2.26 4.52 2.26M312.5 398.14v2.26 2.26 2.26M313.5 402.66v4.52 2.26 1.06 1.2 2.26 .54 6.24 2.26 2.26 2.26M314.5 408.5v.94 2.26 2.26 2.26 2.26 6.78 4.52 1.72 .54 2.26 2.26M315.5 407.18v2.26 2.26 2.26 2.26 4.52 2.26 2.26 2.26 .98 3.54M316.5 400.4v2.26 .84 1.42 1.58 .68 2.26 2.26 4.52 2.26 2.26 2.26 2.26 3.24 1.28M317.5 404.92v2.26 2.26 2.26 2.26 .54 3 .98 2.26 2.26 2.26 2.26 2.26 2.26M318.5 415.5v.72 2.26 11.3 1.72 2.8M319.5 404.92v1.58 .68 2.26 2.26 2.26 2.26 1.28 .98 2.26 2.26 2.26 2.26 2.26 2.26 2.26M320.5 404.92v9.04 2.26 2.26M321.5 404.92v2.26 2.26 2.26 2.26M322.5 404.92v1.58 .68 4.52 2.26 2.26M323.5 398.14v1.36 .9 2.26 2.26 2.26 2.26 2.26 2.26 2.26M324.5 404.92v2.26 1.32 .94 2.26 2.26M325.5 402.66v.84 1.42 2.26 1.32 .94 2.26 2.26M326.5 413.96M327.5 407.18v2.26 2.26 2.26M328.5 407.18v2.26 6.78 1.28 .98M329.5 404.92v2.26 2.26 2.26 .8 1.46 4.52M330.5 407.18v4.52 2.26 2.26 2.26M331.5 398.14v2.26 1.1 2 1.42 2.26 2.26 2.26 2.26 4.52 2.26 .76 1.5M332.5 404.92v.58 3 7.72 2.26M333.5 411.7v2.26 4.52 2.26M334.5 402.66v2.26 6.78 .8 1.46 1.54 .72 2.26 2.26 .76M335.5 400.4v2.26 2.26 .58 1.68 2.26 2.26 2.26 2.26 2.26 2.26 2.26 2.26 2.26 2.26M336.5 390.5v.86 2.26 2.26 .62 1.64 2.26 1.1 1.16 .84 1.42 1.58 9.72 2.26M337.5 407.18v2.26 2.26 2.26M338.5 408.5v5.46 .54 1.72M339.5 404.92v2.26 2.26 2.26 2.26 6.78M340.5 402.66v2.26 2.26 2.26 1.06 5.72 2.26 1.02 1.24 .76M341.5 407.18v2.26 2.26 2.26M342.5 404.92v11.3M343.5 402.66v2.26 2.26 2.26 2.26 2.26 2.26M344.5 409.44v2.26 2.26 2.26M345.5 407.18v1.32 .94 2.26 2.26 2.26 4.52M346.5 402.66v.84 1.42 4.52 2.26 2.26M347.5 399.5v7.68 2.26M348.5 402.66v2.26 2.26M349.5 407.18v2.26 2.26 2.26 4.52 2.26M350.5 404.92v2.26 6.78 2.26M351.5 395.88v2.26 4.52 2.26 .58 1.68 2.26 2.26 2.26 2.26M352.5 404.92v10.58M353.5 399.5v4 1.42 2.26 2.26 2.26 .8 1.46M354.5 395.88v2.26 2.26 2.26 2.26 2.26M355.5 393.62v2.26 2.26 2.26 2.26 2.26M356.5 400.4v2.26 2.26 2.26 2.26M357.5 404.92v2.26 1.32 .94 2.26M358.5 398.14v2.26 2.26 2.26M359.5 407.18v2.26 2.26 2.26M360.5 400.4v2.26 2.26 2.26 2.26 2.26 2.26M361.5 402.66v4.52 2.26 2.26 2.26M362.5 396.5v1.64 2.26 1.1 1.16 2.26 1.58 2.94 1.06M363.5 393.62v2.26 2.26 2.26 2.26 2.26 2.26 2.26 1.06M364.5 400.4v2.26 2.26 2.26 2.26M365.5 402.66v2.26 2.26 2.26M366.5 395.88v2.26 1.36 .9 2.26 2.26 3.58 .94M367.5 397.5v5.16 .84 3.68 2.26 2.26 2.26M368.5 404.92v4.52 2.26M369.5 399.5v3.16 .84 2 1.68 2.26 1.06 1.2 2.26M370.5 402.66v2.26 6.78 2.26M371.5 400.4v1.1 1.16 2.26 2.26 2.26 2.26 .8M372.5 404.92v11.3 2.26 2.26 2.26 2.26M373.5 407.18v2.26 2.26 2.26 2.26 2.26M374.5 411.7v2.26 .54 1.72 2.26M375.5 402.66v2.26 2.26 2.26 2.26 2.26 1.54M376.5 404.92v2.26M377.5 404.92v2.26 1.32 .94 2.26 2.26 2.26 4.52 .76 1 .5M378.5 400.4v2.26 2.26 4.52 1.06 1.2M379.5 403.5v3.68 1.32 .94 2.26 2.26 6.78M380.5 398.14v2.26 2.26 2.26 2.26 2.26 1.06M381.5 401.5v5 .68 2.26 2.26 2.26M382.5 400.4v2.26 2.26 11.3 2.26M383.5 402.66v2.26 2.26 2.26 2.26 2.26 2.26 3.28 1.24 2.26 2.26 1.24 1.02M384.5 404.92v9.04M385.5 401.5v1.16 4.52 2.26 2.26 .8 1.46 2.26 4.52M386.5 391.36v2.26 4.52 2.26 2.26 2.26 .58M387.5 398.14v2.26 2.26 2.26 2.26 2.26M388.5 399.5v.9 2.26 .84 1.42 4.52 1.06 3.46M389.5 398.14v2.26 1.1 1.16 2.26 1.58 .68 2.26M390.5 397.5v.64 2.26 2.26 2.26 1.58 .68 2.26 2.26M391.5 395.88v2.26 2.26 2.26 2.26M392.5 404.92v3.58 3.2 3.8 .72 2.26 2.26 .76 1.5M393.5 402.66v4.52 2.26 2.26 2.26 3.54 .98 2.26M394.5 400.4v2.26 2.26 11.3M395.5 407.18v2.26 2.26 2.26 4.52M396.5 402.66v2.26 .58 3M397.5 407.18v2.26M398.5 400.4v2.26 2.26 2.26 2.26 2.26M399.5 400.4v2.26 2.26 2.26 2.26M400.5 404.92v2.26 2.26 4.52M401.5 397.5v9 .68 2.26 2.26M402.5 402.66v2.26 6.78M403.5 400.4v2.26 2.26 1.58 .68 2.26 2.26 2.26M404.5 400.4v2.26 2.26 2.26 2.26 2.26M405.5 402.66v3.84 .68 2.26 2.26 .8 1.46M406.5 398.14v2.26 2.26 2.26 11.3 2.26M407.5 398.14v5.36 3.68 2.26 2.26 2.26 2.26M408.5 400.4v2.26 2.26 3.58M409.5 400.4v2.26 2.26 2.26 2.26 2.26 2.26 2.26 2.26 1.02 1.24M410.5 404.92v.58 6.2 2.26 2.26 2.26 4.52 2.26 4.52 2.26 2.26 1.2 1.06M411.5 398.14v6.78 2.26 2.26 2.26 2.26 6.78 2.26 2.26 2.26 4.52 2.26 2.26 2.26 2.26 2.26M412.5 402.66v2.26 3.58 7.72 2.26 11.3 4.52M413.5 404.92v2.26 2.26 2.26 2.26 3.54 .98 2.26 2.26 2.26 2.26 3.98 .54 1.46 3.06 2.26 2.26 2.26 4.52M414.5 402.66v2.26 2.26 4.52 4.52 2.26 2.26 .76 1.5 2.26 2.26 2.26 4.52 1.2 1.06 4.52 2.26M415.5 407.18v1.32 .94 2.26 2.26 4.52 2.26 .76 1.5 1.5 .76 2.26 3.98 .54 2.26 2.26 2.26 2.26 2.26M416.5 400.4v2.26 2.26 6.78 4.52 2.26 11.3 4.52M417.5 396.5v1.64 2.26 6.78 2.26 2.26 2.26 4.52 2.26 2.26 2.26 2.26 2.26 2.26M418.5 391.36v6.78 2.26 2.26 2.26 4.52M419.5 395.88v2.26 2.26 2.26 2.26 1.58 .68 1.32 .94 2.26M420.5 394.5v1.38 2.26 2.26 2.26 2.26 2.26 2.26 2.26M421.5 393.62v2.26 .62 3.9 4.52 .58 1.68 2.26M422.5 396.5v1 .64 1.36 .9 2.26 2.26 2.26 2.26 2.26 2.26 .54 1.72M423.5 395.88v2.26 2.26 2.26 2.26 2.26 2.26 2.26 2.26M424.5 398.14v2.26 2.26 2.26 4.52 6.78M425.5 400.4v5.1 1 .68 2.26 2.26 2.26M426.5 398.14v1.36 .9 2.26 2.26M427.5 396.5v1.64 9.04 2.26 1.06 1.2 2.26M428.5 398.14v2.26 2.26 2.26 4.52 2.26 4.52M429.5 393.62v2.26 6.78 4.52 2.26 2.26 2.26M430.5 398.14v2.26 2.26 2.26 1.58 5.2 .8 2 1.72 2.26M431.5 393.62v2.26 6.78 .84 3 .68 2.26 1.06 1.2M432.5 400.4v2.26 2.26 .58 1.68 2.26 2.26 2.26 2.26 2.26M433.5 407.18v2.26 2.26 2.26 6.78M434.5 398.14v2.26 2.26 2.26 9.58 1.72 2.26M435.5 392.5v1.12 2.26 2.26 2.26 5.1 1.68 1.32 .94 2.26M436.5 398.14v2.26 2.26 2.26 5.58 1.2 2.26 1.54 .72 2.26M437.5 400.4v2.26 4.52 1.32 .94 2.26 2.26 2.26 2.26 2.26 2.26 2.26 1.24M438.5 398.14v2.26 1.1 1.16 2.26 2.26 2.26 6.78 1.28M439.5 395.88v2.26 2.26 4.52 2.26 2.26 2.26 2.26 2.26M440.5 395.88v2.26 2.26 1.1 1.16 2.26 3.58 .94 2.26 4.52M441.5 395.88v4.52 1.1 3.42 2.26 2.26 2.26 .8 1.46 2.26M442.5 398.14v2.26 2.26 2.26 2.26 2.26 2.26 2.26 2.26 2.26 2.26M443.5 390.5v.86 2.26 2.26 .62 3 2 1.16 2.26 2.26 2.26 2.26M444.5 391.36v2.26 4.52 2.26 2.26 2.26 .58 1.68 2.26 2.26 2.26M445.5 393.62v2.26 2.26 2.26 1.1 2 1.42 2.26 2.26 2.26 2.26M446.5 391.36v6.78 1.36 .9 2.26 2.26 11.3 2.26M447.5 395.88v2.26 9.04 2.26 2.26 2.26M448.5 391.36v4.52 2.26 2.26 1.1 1.16 2.26 2.26 2.26 1.06M449.5 393.62v.88 1.38 11.3 2.26 2.26 2.26 4.52 2.26 2.26 2.26 2.26M450.5 391.36v4.52 2.26 2.26 2.26 2.26 2.26 4.52M451.5 389.1v4.52 2.26 11.3 2.26 2.26M452.5 391.36v2.26 2.26 1.62 .64 1.36 .9 2.26 2.26 2.26 2.26 2.26M453.5 389.1v4.52 2.26 1.62 6 1.42 2.26 1.32 .94 1.06 1.2M454.5 391.36v6.78 2.26 2.26 2.26 2.26 2.26 2.26M455.5 398.14v6.78 2.26 2.26 2.26 2.26 2.26 2.26 2.26 2.26 2.26M456.5 391.36v2.26 2.26 2.26 1.36 .9 2.26 2.26 2.26 2.26 4.52M457.5 389.1v4.52 2.26 4.52 2.26 4.52 2.26 2.26 2.26M458.5 391.36v6.78 2.26 1.1 1.16 2.26 2.26 4.52 2.26 1.54 .72 2.26 4.02 .5 3.5 3.28M459.5 389.1v4.52 2.26 4.52 2.26 2.26 2.26 2.26 1.06 1.2 2.26M460.5 390.5v.86 6.78 2.26 2.26 2.26 3.58 .94 2.26 2.26M461.5 390.5v2 1.12 2.26 9.04 2.26 2.26 1.06 1.2 2.26 4.52M462.5 391.36v4.52 2.26 2.26 2.26 2.26 .58 3.94M463.5 389.1v1.4 .86 2.26 2.26 2.26 4.52 .84 3.68 2.26 1.06 1.2 2.26M464.5 391.36v4.52 .62 1.64 1.36 .9 2.26 2.26 .58 1.68 1.32 3.2 2.26M465.5 382.32v2.26 2.26 2.26 2.26 2.26 2.26 2.26 4.52 4.52 2.26 1.06 1.2M466.5 391.36v2.26 4.52 2.26 2.26 2.26 4.52M467.5 384.58v2.26 2.26 4.52 2.26 6.78 2.26M468.5 391.36v6.78 2.26 2.26 2.26 2.26 2.26 1.06M469.5 393.62v2.26 2.26 2.26 6.78 2.26 2.26 .8 1.46 1.54M470.5 386.84v2.26 2.26 2.26 2.26 2.26 2.26 2.26 2.26 2.26 2.26 2.26 2.26M471.5 386.84v2.26 4.52 2.26 2.26 9.04 1.32 .94M472.5 391.36v2.26 2.26 2.26 2.26 2.26 2.26 2.26 1.32 .94 2.26M473.5 391.36v2.26 2.26 7.62 3.68 2.26 2.26M474.5 391.36v6.78 2.26 2.26 2.26 3.58M475.5 389.1v2.26 2.26 2.26 9.04 2.26 2.26M476.5 391.36v2.26 2.26 2.26 2.26 2.26 2.26 2.26 1.32 .94 2.26 2.26M477.5 395.88v.62 1.64 2.26 2.26 2.26 2.26 2.26 2.26 2.26 2.26 2.26 1.02M478.5 389.1v2.26 6.78 2.26 2.26 .84 1.42 2.26 2.26 1.06 1.2M479.5 389.1v2.26 2.26 2.26 2.26 2.26 2.26 2.26 2.26 2.26 2.26 2.26 2.26 2.26M480.5 391.36v5.14 1.64 2.26 2.26 2.26 4.52 4.52M481.5 387.5v1 .6 3.4 1.12 .88 1.38 3.62 7 .68 2.26 2.26M482.5 387.5v1.6 2.26 6.78 2.26 2.26 2.26 4.52M483.5 386.84v1.66 .6 2.26 1.14 1.12 2.26 2.26 2.26 4.52 .58M484.5 391.36v6.78 2.26 2.26 2.26 2.26M485.5 385.5v1.34 .66 1 .6 2.26 2.26 2.26 2.26 2.26 3.1 1.42 2.26 2.26M486.5 385.5v5.86 4.52 2.26 1.36 .9 2.26 .84 1.42 .58 1.68 3.32M487.5 386.84v2.26 2.26 2.26 2.26 2.26 2.26 2.26 2.26 2.26 1.32M488.5 393.62v2.26 2.26 2.26 1.1 1.16 2.26 3.58M489.5 387.5v1.6 2.26 2.26 2.26 .62 1 .64 2.26 2.26 2.26M490.5 386.84v.66 3.86 2.26 2.26 1.62 .64 2.26 1.1 1.16M491.5 389.1v3.4 1.12 2.26 9.62 1.68 2.26 2.26M492.5 388.5v2.86 2.26 2.26 1.62 .64 2.26 2.26 2.26M493.5 386.84v2.26 4.52 2.26 2.26 1.36 .9 1.1 3.42M494.5 380.06v2.26 2.26 4.52 1.4 .86 5.14 1 .64 2.26 2.26 2.26M495.5 389.1v4.52 2.26 11.3 2.26 2.26 2.26 4.52 2.26M496.5 386.84v4.52 4.52 2.26 2.26 2.26 2.26 1.58 .68 6.78M497.5 386.84v.66 1 .6 4.52 2.26 4.52 2.26M498.5 389.1v2.26 6.78 2.26 1.1 1.16 2.26M499.5 389.1v4.52 2.26 2.26 4.52 2.26 1.58 .68 1.32 .94M500.5 386.84v2.26 2.26 2.26 2.26 2.26 2.26 2.26 2.26 2.26M501.5 393.62v2.26 11.3 2.26 2.26M502.5 393.62v2.26 2.26 2.26 2.26 2.26 2.26 2.26 1.06 1.2 .8M503.5 389.1v2.26 1.14 1.12 2.26 2.26 2.26 3.1 2 1.68M504.5 398.14v2.26 2.26 2.26 9.04M505.5 398.14v2.26 2.26 2.26 2.26 2.26 2.26 .8 1.46M506.5 391.36v6.78 2.26 2.26 2.26 2.26 2.26 6.06M507.5 393.62v2.26 6.78 4.52 2.26 2.26M508.5 386.84v4.52 4.52 2.26 2.26 2.26 .84 1.42 4.52M509.5 391.36v2.26 2.26 4.52 2.26 2.26 2.26M510.5 391.36v1.14 1.12 2.88 1.64 2.26 2.26 .84 1.42M511.5 395.88v3.62 .9 3.1 1.42 2.26 2.26 1.06 1.2M512.5 395.88v2.26 2.26 2.26 2.26 2.26 4.52M513.5 395.88v6.78 4.52 2.26 2.26 2.26M514.5 398.14v2.26 2.26 2.26 2.26 2.26 4.52M515.5 393.62v2.26 2.26 6.78 2.26 2.26 2.26M516.5 389.1v2.26 2.26 4.52 2.26 2.26 2.26 4.52M517.5 397.5v.64 2.26 2.26 2.26 2.26 2.26 2.26 2.26 2.26M518.5 398.14v2.26 2.26 2.26 2.26M519.5 393.62v2.26 2.26 9.04 2.26 2.26 2.26 2.26M520.5 398.14v2.26 2.26 2.26 4.52 2.26 .8 1.46 .54M521.5 391.36v2.26 2.26 3.62 .9 2.26 3.84 .68 2.26 2.26 2.26 2.26M522.5 398.14v2.26 2.26 2.26 4.52M523.5 402.66v2.26 .58 1 .68 2.26 2.26 2.26M524.5 400.4v2.26 2.26 2.26 9.04M525.5 398.14v2.26 3.1 1.42 2.26 2.26 2.26M526.5 398.14v2.26 2.26 2.26 2.26M527.5 393.62v.88 1.38 2.26 2.26 2.26 2.26 2.26 1.32 .94 2.26 2.26 2.26M528.5 391.36v2.26 4.52 1.36 .9 2.26 2.26 6.78M529.5 396.5v5 1.16 2.26 2.26 2.26 2.26 .8M530.5 390.5v.86 6.78 2.26 2.26 2.26M531.5 407.18v2.26 2.26 2.26M532.5 400.4v2.26 2.26 9.04M533.5 397.5v.64 2.26 2.26 4.52 2.26 2.26M534.5 393.62v2.26 2.26 2.26 2.26 2.26 2.26 2.26 2.26 2.26 2.26M535.5 398.14v4.52 4.52 2.26 2.26 2.26 3.54 3.24M536.5 393.62v.88 1.38 2.26 2.26 2.26 2.26 2.26 1.32 .94 1.06 1.2 2.26M537.5 403.5v3.68 2.26 2.26M538.5 398.14v2.26 2.26 2.26 4.52 2.26 4.52 2.26M539.5 397.5v2.9 1.1 5.68 2.26 2.26M540.5 400.4v2.26 2.26 .58 1 .68 2.26 2.26 2.26 2.26 1.28 .98M541.5 404.92v1.58 .68 1.32 .94 2.26 2.26 3.54 .98 2.26M542.5 400.4v2.26 2.26 2.26 2.26 2.26M543.5 405.5v1 .68 2.26 2.26 2.26 3.54 3.24 2.26M544.5 400.4v2.26 2.26 2.26 2.26 2.26 2.26 2.26M545.5 402.66v4.52 2.26 2.26 2.26 2.26 4.52M546.5 402.66v2.26 4.52 2.26M547.5 398.14v2.26 4.52 2.26 2.26 2.26 2.26 2.26 2.26M548.5 398.14v2.26 2.26 2.26 2.26 1.32 3.2 4.52 2.26 2.26M549.5 399.5v3.16 4.52 2.26 1.06 1.2 2.26M550.5 401.5v1.16 2.26 2.26 2.26 2.26 2.26 2.26M551.5 392.5v1.12 2.26 3.62 3.16 .84 1.42 1.58 .68 2.26 2.26 2.26 2.26M552.5 399.5v.9 2.26 2.26 6.78M553.5 402.66v.84 3.68 2.26 2.26 2.26M554.5 400.4v1.1 1.16 .84 1.42 9.04 2.26 2.26 4.52 4.52 2.26M555.5 404.92v2.26 2.26 2.26 2.26M556.5 398.14v2.26 2.26 2.26 1.58 2.94 1.06 3.46 2.26 1.28 .98 2.26 1.76M557.5 404.92v.58 1 .68 2.26 2.26 .8 1.46 2.26 2.26 2.26 1.76 .5M558.5 398.14v2.26 2.26 2.26 2.26 2.26 2.26 2.26 2.26 2.26M559.5 398.14v2.26 4.52 2.26 2.26 2.26 2.26M560.5 395.88v2.26 2.26 2.26 2.26 3.58M561.5 393.62v2.26 4.52 2.26 4.52 2.26 2.26 2.26 2.26M562.5 395.88v2.26 2.26 2.26 2.26 2.26 2.26 4.52 2.26 2.26M563.5 393.62v2.26 2.26 2.26 2.26 2.26 2.26 2.26 2.26 2.26 1.54 .72 2.26 1.02 1.24M564.5 390.5v.86 4.52 1.62 .64 2.26 2.26 .84 1.42 2.26 2.26M565.5 386.84v2.26 3.4 1.12 2.26 2.26 9.04 1.32 .94 2.26 2.26 6.78 2.26 2.26 2.26M566.5 387.5v3.86 5.14 1.64 1.36 .9 2.26 .84 1.42 5.58 5.72M567.5 389.1v4.52 2.26 2.26 2.26 1.1 1.16 2.26 2.26 2.26 2.26 2.26 2.26 1.28 .98M568.5 389.1v2.26 2.26 2.26 2.26 2.26 2.26 2.26 2.26 2.26 6.78M569.5 384.58v2.26 2.26 1.4 .86 1.14 1.12 .88 1.38 7.62 3.68 2.26 2.26 2.26M570.5 386.84v2.26 2.26 2.26 2.26 2.26 2.26 2.26 2.26 2.26M571.5 384.58v.92 1.34 2.26 2.26 2.26 2.26 .62 1.64 9.04 2.26 2.26 .8 1.46M572.5 386.84v2.26 2.26 2.26 2.26 1.62 .64 2.26 2.26 2.26 2.26 2.26M573.5 386.84v1.66 .6 3.4 1.12 2.26 .62 1.64 4.52 .84 3.68 1.32 .94 2.26M574.5 384.58v6.78 6.78 2.26 2.26 2.26 3.58 .94M575.5 377.8v4.52 2.26 2.26 2.26 4.52 2.26 4.52 2.26 2.26 2.26M576.5 380.06v2.26 2.26 6.78 4.52 2.26 2.26 2.26M577.5 377.8v2.26 2.26 2.26 2.26 .66 1.6 4.52 2.26 6.78M578.5 380.06v2.26 2.26 2.26 .66 1.6 2.26 2.26 2.26 2.26 2.26 2.26 2.26M579.5 382.32v2.26 2.26 2.26 1.4 .86 2.26 2.26 2.26 2.26 6.78 2.26 2.26 2.26M580.5 380.06v2.26 2.26 2.26 2.26 2.26 2.26 2.26 2.26 2.26 2.26 2.26 2.26M581.5 382.32v2.26 2.26 2.26 2.26 2.26 2.26 6.78 .84 3.68M582.5 380.06v2.26 6.78 2.26 1.14 1.12 4.52 2.26 2.26 2.26 4.52M583.5 380.06v2.26 2.26 .92 1.34 2.26 4.52 2.26 11.3M584.5 380.06v2.26 2.26 6.78 2.26 2.26 2.26 2.26 2.26 2.26 .58 3 .94 2.26M585.5 377.8v2.26 2.26 2.26 2.26 2.26 4.52 2.26 2.26 3.36M586.5 380.06v1.44 3.08 3.92 2.86 2.26 4.52 2.26 2.26 .84 1.42 1.58 .68 2.26M587.5 377.8v4.52 2.26 2.26 2.26 2.26 2.26 2.26 4.52 4.52 2.26M588.5 375.54v2.26 2.26 2.26 1.18 1.08 2.26 4.52 2.26 2.26 2.26 2.26 1.1 1.16 2.26M589.5 368.76v2.26 1.48 .78 2.26 2.26 2.26 2.26 2.26 2.26 2.26 2.26 2.26 2.26 2.26 2.26 1.1 1.16 .84 1.42 2.26 1.32 .94M590.5 381.5v.82 8.18 .86 2.26 2.88 1.64 2.26 1.1 1.16 .84 1.42M591.5 382.32v2.26 2.26 2.26 4.52 2.26 4.52M592.5 380.06v2.26 2.26 2.26 4.52 2.26 2.26 2.26 2.26 2.26 2.26M593.5 366.5v2.26 4.52 2.26 2.26 2.26 2.26 2.26 2.26 2.26 2.26 2.26 2.26 4.52 4.52M594.5 378.5v1.56 1.44 .82 2.26 2.26 2.26 2.26 2.26 2.88 1.64 2.26 2.26 2.26M595.5 377.8v4.52 2.26 .92 1.34 2.26 4.52 2.26 1.62 6 1.42 2.26 2.26M596.5 375.54v.96 1.3 2.26 3.44 1.08 4.52 2.26 2.26 3.88 .64 2.26 2.26 2.26M597.5 377.8v4.52 1.18 1.08 2.26 2.26 3.4 1.12 2.26 1.62 2.9M598.5 377.8v2.26 11.3 4.52 2.26 2.26 2.26 2.26M599.5 382.32v2.26 2.26 2.26 4.52 2.26 2.26 2.26 2.26M600.5 377.8v2.26 6.78 4.52 6.78 2.26 2.26M601.5 374.5v3.3 1.7 .56 2.26 2.26 2.26 2.26 2.26 2.26 2.26 4.52 3.1M602.5 380.06v4.52 2.26 2.26 2.26 2.26 2.26 1.62 .64 2.26 2.26 2.26 2.26M603.5 382.32v2.26 2.26 2.26 4.52 2.26 11.3M604.5 380.06v5.44 1.34 4.52 6.14 .64 2.26 2.26 2.26 .58M605.5 377.8v2.26 2.26 2.26 2.26 .66 1.6 2.26 1.14 1.12 2.26 1.62 2.9 2.26M606.5 374.5v1.04 3.96 .56 8.44 2.86 4.52 2.26 2.26 1.1 1.16 2.26 .58M607.5 377.8v2.26 2.26 2.26 2.26 2.26 2.26 2.26 2.26 2.26 2.26 2.26 2.84 1.68 2.26 2.26M608.5 380.06v2.26 2.26 2.26 2.26 2.26 1.14 1.12 4.52 1.36 .9 2.26 2.26 2.26M609.5 382.32v2.26 2.26 2.26 2.26 1.14 1.12 2.26 2.26 2.26 2.26 2.26 .58 1.68M610.5 380.06v2.26 2.26 2.26 4.52 2.26 .88 1.38 .62 1 .64 2.26 2.26 2.26M611.5 382.32v2.26 .92 1.34 2.26 4.52 2.26 2.26 6.78 1.58 .68M612.5 386.84v4.52 6.78 2.26 2.26 2.26M613.5 382.32v2.26 2.26 2.26 2.26 2.26 2.26 2.26 2.26 6.78M614.5 381.5v7.6 2.26 3.14 3.64 2.26 2.26 2.26 4.52M615.5 382.32v2.26 2.26 2.26 4.52 .88 1.38 3.62 3.16 2.84 1.68M616.5 386.84v1.66 .6 2.26 2.26 4.52 2.26 2.26 2.26 2.26 2.26 1.06M617.5 386.84v2.26 2.26 2.26 2.26 2.26 3.36 1.16 2.26 2.26 2.26 2.26 2.26M618.5 380.06v2.26 6.78 1.4 .86 2.26 2.26 .62 1.64 2.26 1.1 1.16 2.26 .58 1.68 2.26 2.26M619.5 382.32v2.26 2.26 2.26 2.26 2.26 2.26 2.26 2.26M620.5 382.32v1.18 1.08 2.26 2.26 2.26 1.14 1.12 2.26 2.26 2.26 2.26 2.26 .58 1 .68 1.32 .94 2.26 .8 1.46 .54 1.72M621.5 380.06v2.26 2.26 2.26 2.26 2.26 2.26 2.26 2.26 2.26 2.26 2.26M622.5 379.5v.56 2.26 1.18 7.86 6.78 2.26 2.26 2.26 2.26 2.26M623.5 382.32v2.26 2.26 2.26 4.52 2.26 7.62 3.68M624.5 382.32v9.04 4.52 2.26 2.26 2.26 2.26M625.5 377.8v4.52 2.26 .92 1.34 1.66 .6 4.52 2.26 2.26 1.36 2 1.16 2.26 .58 1.68 2.26M626.5 382.32v2.26 2.26 1.66 .6 2.26 6.78 2.26 2.26 2.26 1.58 .68 2.26 2.26M627.5 382.32v2.26 2.26 2.26 4.52 2.26 11.3 2.26 2.26M628.5 382.32v6.78 2.26 5.14 1.64 2.26 2.26 .84 1.42 2.26M629.5 373.28v3.22 1.3 4.52 2.26 2.26 2.26 2.26 1.14 1.12 2.26 .62 6.16 2.26 2.26 2.26M630.5 377.8v2.26 2.26 2.26 2.26 2.26 2.26 2.26 2.26 2.26 2.26 2.26 2.26M631.5 377.8v.7 3.82 2.26 2.26 .66 1.6 2.26 2.26 2.26 .62 1 5.16M632.5 380.06v2.26 2.26 2.26 2.26 2.26 1.14 1.12 4.52 2.26 2.26 2.26 1.58M633.5 376.5v1.3 4.52 2.26 2.26 2.26 4.52 2.26 4.52 2.26 .84M634.5 377.8v2.26 2.26 2.26 2.26 4.52 3.14 1.38 2.26 2.26 2.26 2.26M635.5 380.06v2.26 2.26 2.26 2.26 2.26 2.26 2.26 .62 1 .64 2.26 2.26M636.5 380.06v2.26 2.26 2.26 1.66 .6 2.26 2.26 2.26 2.26 2.26 2.26M637.5 377.8v2.26 2.26 2.26 2.26 2.26 2.26 2.26 .88 1.38 1.62 .64 2.26 1.1 1.16 2.26 2.26M638.5 389.1v2.26 1.14 5.64 1.36 .9 2.26 2.26 2.26 3.32M639.5 384.58v2.26 1.66 .6 3.4 1.12 2.26 9.04M640.5 383.5v7.86 6.78 2.26 2.26 2.26M641.5 389.1v2.26 2.26 2.26 6.78 4.52 2.26 1.06 1.2M642.5 385.5v5 .86 1.14 3.38 1.62 .64 2.26 2.26 .84 1.42 1.58 5.2M643.5 386.84v2.26 2.26 2.26 2.26 2.26 4.52 2.26 2.26M644.5 375.54v4.52 1.44 2 1.08 5.92 .86 6.78 1.36 .9 2.26 2.26M645.5 389.1v4.52 2.26 2.26 2.26 6.78 2.26 2.26 .8 1.46M646.5 384.58v4.52 2.26 1.14 1.12 2.26 2.26 2.26 2.26 2.26M647.5 389.1v4.52 2.26 2.26 2.26 2.26 2.26 2.26M648.5 389.1v2.26 2.26 .88 3.64 1.36 .9 2.26 2.26 2.26 2.26 1.06 1.2M649.5 384.58v2.26 2.26 1.4 3.12 2.26 2.26 4.52 4.52M650.5 391.36v4.52 2.26 2.26 2.26 2.26M651.5 393.62v2.26 2.26 2.26 4.52 2.26 2.26 2.26M652.5 391.36v2.26 2.26 2.26 2.26 2.26 2.26M653.5 391.36v2.26 2.26 6.78 2.26 2.26 2.26 2.26 2.26 .54M654.5 391.36v1.14 5.64 2.26 2.26 2.26M655.5 392.5v1.12 2.26 10.62 .68 2.26 2.26 .8M656.5 393.62v4.52 2.26 2.26 2.26 2.26 4.52M657.5 389.1v2.26 2.26 2.26 2.26 2.26 2.26 4.52 2.26M658.5 391.36v2.26 .88 1.38 .62 1.64 1.36 .9 2.26 2.26 4.52 1.06M659.5 389.1v2.26 2.26 2.26 4.52 2.26 4.52 2.26 2.26 2.26M660.5 388.5v2.86 2.26 2.26 2.26 2.26 2.26 2.26 1.58 .68 2.26M661.5 391.36v2.26 2.26 9.04 2.26 2.26 2.26M662.5 391.36v2.26 4.52 2.26 2.26 2.26 .58 1 2.94M663.5 393.62v.88 1.38 3.62 .9 2.26 4.52 2.26 2.26 2.26M664.5 391.36v6.78 2.26 2.26 .84 1.42 2.26 2.26 2.26 .8 1.46 .54 1.72 2.26 2.26M665.5 391.36v1.14 1.12 2.26 1.62 9.68 2.26 2.26 .8 1.46M666.5 390.5v.86 1.14 3.38 2.26 2.26 2.26 2.26 6.78M667.5 389.1v2.26 2.26 2.26 6.78 4.52 1.32 .94M668.5 391.36v6.78 2.26 2.26 2.26 5.58 1.2M669.5 389.1v2.26 2.26 2.26 11.3 2.26 2.26 .8 1.46M670.5 382.32v2.26 2.26 2.26 2.26 2.26 2.26 1.62 .64 2.26 2.26 2.26 2.26M671.5 389.1v2.26 2.26 2.26 2.26 2.26 1.1 1.16 2.26 2.26 2.26 2.26M672.5 391.36v6.78 2.26 2.26 2.26 11.3M673.5 389.1v1.4 2 1.12 2.26 5.62 1.16 2.84 1.68 2.26 2.26 2.26M674.5 391.36v6.78 2.26 2.26 2.26 2.26M675.5 386.84v2.26 4.52 2.26 6.78M676.5 389.1v2.26 6.78 2.26 2.26 2.26M677.5 386.84v2.26 4.52 2.26 11.3 1.32M678.5 391.36v6.78 2.26 2.26 .84 1.42 3.58 7.72 2.26 11.3M679.5 382.32v2.26 2.26 2.26 4.52 2.26 4.52 4.52 2.26 2.26 1.06 1.2 2.26M680.5 389.1v2.26 6.78 2.26 1.1 1.16 2.26 2.26 2.26M681.5 382.32v2.26 .92 1.34 2.26 4.52 2.26 6.78M682.5 375.54v2.26 2.26 2.26 4.52 .66 1.6 2.26 2.26 2.26 2.26 2.26 1.1 1.16 2.26M683.5 368.76v2.26 2.26 2.26 2.26 .7 1 2.82 1.18 1.08 2.26 2.26 2.26 2.26 2.26 2.26M684.5 366.5v2.26 .74 1.52 2.26 2.26 .96 3 .56 4.52 4.52 2.26 3.14 1.38 2.26M685.5 364.24v2.26 2.26 .74 3.78 4.52 2.26 2.26 2.26 2.26 2.26 2.26 2.26 2.26 2.26M686.5 364.24v2.26 2.26 2.26 4.52 2.26 2.26 2.26 2.26 2.26 2.26 2.26 4.52M687.5 373.28v4.52 4.52 2.26 2.26 .66 1.6 4.52 2.26 6.78M688.5 357.46v2.26 4.52 2.26 2.26 2.26 2.26 2.26 4.52 10.44 .86 4.52 2.26 1.36 .9 2.26 2.26M689.5 361.98v11.3 4.52 2.26 2.26 2.26 2.26 2.26 2.26M690.5 357.46v2.26 2.26 2.26 2.26 2.26 2.26 4.52 4.52 7.44 3.86M691.5 361.98v4.52 6.78 4.52 4.52 2.26 2.26 2.26 4.52 .88 1.38M692.5 364.24v2.26 2.26 2.26 4.52 4.52 11.3M693.5 357.46v4.52 2.26 4.52 2.26 2.26 4.52 4.52 1.18 1.08 2.26 2.26 2.26 2.26 2.26 1.62 2.9M694.5 364.24v2.26 2.26 2.26 2.26 2.26 .96 3.56 10.44 .86 1.14 1.12M695.5 361.98v4.52 1 5.78 4.52 4.52 2.26 2.26 2.26 2.26 2.26 2.26M696.5 359.72v2.26 2.26 2.26 2.26 2.26 2.26 2.26 2.26 2.26 2.26 2.26 2.26 2.26 1.4 .86 2.26 2.26 2.26 1.36 .9M697.5 371.02v2.26 4.52 3.7 .82 2.26 2.26 .66 1 .6 2.26 2.26 2.26 2.26 2.26 1.1M698.5 366.5v2.26 2.26 4.52 2.26 2.26 6.78 1.66 2 .86 6.78M699.5 364.24v2.26 2.26 2.26 2.26 2.26 2.26 2.26 2.26 2.26 2.26 2.26 2.26 2.26 2.26 1.62 .64M700.5 366.5v2.26 2.26 2.26 2.26 .96 1.3 2.26 4.52 2.26 4.52 6.78 1.36 .9M701.5 371.02v2.26 2.26 2.26 4.52 2.26 2.26 2.26 2.26 2.26 2.26M702.5 368.76v2.26 4.52 4.52 2.26 2.26 2.26 4.52 6.78 2.26M703.5 373.28v2.26 2.26 4.52 2.26 2.26 2.26 4.52 2.26 2.26 4.52 2.26 .58 1.68M704.5 376.5v1.3 2.26 2.26 2.26 6.78 2.26 4.52 2.26 2.26 .84 1.42M705.5 386.84v2.26 2.26 2.26 2.26 6.78 4.52 2.26 2.26 2.26 2.26M706.5 391.36v2.26 2.26 2.26 2.26 2.26 2.26 4.52 1.06 5.72 2.26 2.26 4.52 2.26M707.5 393.62v2.26 1.62 9.68 2.26 2.26 2.26 2.26 4.52 2.26 2.26 2.26M708.5 395.88v2.26 2.26 2.26 2.26 2.26 2.26 4.52 2.26 2.26 2.26 2.26M709.5 389.1v2.26 2.26 2.26 1.62 .64 4.52 2.26 2.26 1.32 .94 1.06 1.2 2.26 2.26 3.28 1.24 2.26 2.26M710.5 387.5v1 .6 2.26 2.26 2.26 2.26 2.26 2.26 2.26 2.26 2.26 2.26 2.26 2.26 2.26 2.26M711.5 389.1v4.52 2.26 2.26 2.26 2.26 2.26 2.26 2.26 2.26 2.26 2.26 4.52 2.26 2.26 2.26M712.5 391.36v6.78 2.26 2.26 2.26 2.26 6.78 2.26 2.26 4.52M713.5 389.1v4.52 2.26 1.62 2.9 6.78 2.26 2.26 2.26 4.52 2.26 .76M714.5 391.36v6.78 2.26 2.26 2.26 2.26 6.78 2.26 2.26 2.26 .76M715.5 393.62v2.26 2.26 2.26 4.52 2.26 1.32 .94 2.26 2.26 4.52 2.26 2.26 2.26M716.5 395.88v.62 1.64 2.26 2.26 2.26 4.52 6.78 2.26M717.5 393.62v2.26 4.52 4.52 2.26 2.26 2.26 2.26 6.78 2.26M718.5 390.5v.86 2.26 .88 1.38 2.26 2.26 2.26 2.26 .58 1 4 1.2 2.26 2.26 2.26 2.26 9.04M719.5 398.14v2.26 2.26 2.26 2.26 2.26 2.26 2.26 2.26 4.52 2.26 2.26 2.26 2.26M720.5 393.62v2.26 2.26 2.26 2.26 2.26 4.52 4.52 2.26 2.26 2.26 2.26M721.5 389.1v4.52 2.26 2.26 2.26 2.26 4.52 2.26 2.26 2.26 .54 1.72 1.28 .98 2.26 2.26M722.5 388.5v.6 2.26 2.26 4.52 2.26 2.26 2.26 7.58 3.72 2.26 2.26 3.76M723.5 393.62v2.26 2.26 6.78 2.26 1.32 .94 2.26 2.26M724.5 391.36v2.26 2.26 2.26 2.26 2.26 2.26 2.26 2.26 2.26 2.26 2.26M725.5 395.88v6.78 4.52 2.26 2.26 2.26M726.5 395.88v2.26 2.26 2.26 2.26 11.3M727.5 393.62v2.26 2.26 2.26 2.26 4.52 2.26 2.26 2.26 2.26 4.52M728.5 395.88v.62 1.64 2.26 2.26 2.26M729.5 403.5v3.68 2.26 2.26 2.26M730.5 389.1v2.26 1.14 1.12 3.88 .64 2.26 2.26 2.26 2.26 2.26 4.52M731.5 389.1v3.4 1.12 2.26 2.26 4.52 3.84 .68 1.32 .94M732.5 396.5v1.64 1.36 .9 2.26 2.26 4.52 1.06 1.2 4.52M733.5 393.62v2.26 2.26 2.26 1.1 3.42 .58 1.68 1.32 .94 2.26 2.26M734.5 391.36v1.14 3.38 2.26 2.26 2.26 2.26 2.26 2.26 2.26 2.26 2.26 2.26 1.02 1.24 2.26M735.5 391.36v2.26 2.26 2.26 2.26 2.26 2.26 2.26 1.32 .94 2.26M736.5 391.36v6.78 2.26 2.26 .84 1.42 1.58M737.5 384.58v2.26 2.26 4.52 2.26 2.26 6.78 2.26 2.26 2.26 2.26M738.5 389.1v2.26 2.26 4.52 2.26 2.26 .84 1.42 2.26 1.32M739.5 393.62v2.26 6.78 4.52 2.26 2.26 2.26M740.5 389.1v2.26 2.26 2.26 2.26 2.26 1.1 1.16 2.26 2.26 2.26M741.5 389.1v2.26 2.26 2.26 2.26 2.26 2.26 2.26 2.26 2.26M742.5 385.5v3 2.86 6.78 2.26 2.26 2.26 3.58 2 4M743.5 389.1v4.52 2.26 1.62 .64 2.26 4.52 2.26 2.26 2.26 2.26M744.5 388.5v2.86 3.14 3.64 2.26 2.26 2.26 2.26 1.32M745.5 389.1v2.26 2.26 2.26 2.26 2.26 2.26 2.26 .58 1.68 2.26M746.5 386.84v4.52 2.26 2.26 1.62 .64 2.26 2.26 2.26M747.5 384.58v2.26 .66 1.6 1.4 3.12 2.26 7.62M748.5 391.36v6.78 2.26 2.26 2.26M749.5 393.62v2.26 1.62 .64 2.26 2.26 4.52 2.26 2.26 2.26M750.5 391.36v1.14 5.64 2.26 2.26 2.26 4.52M751.5 386.84v2.26 2.26 2.26 2.26 2.26 2.26 2.26 .84 1.42 2.26 2.26 2.26M752.5 389.1v2.26 2.26 2.26 2.26 2.26 2.26 2.26 .58 1.68 2.26M753.5 389.1v2.26 2.26 2.26 2.26 2.26 6.78 2.26 2.26 2.26M754.5 395.88v1.62 .64 2.26 2.26 2.26 2.26 1.32 .94 2.26 2.26M755.5 393.62v2.26 6.78 4.52 2.26 2.26 2.26 .54 1.72M756.5 395.88v1.62 .64 2.26 2.26 2.26 .58 1.68 2.26 2.26M757.5 395.88v4.52 6.78 2.26 2.26 2.26 2.26M758.5 391.36v1.14 5.64 2.26 2.26 2.26 2.26 2.26 2.26 4.52M759.5 393.62v2.26 4.52 2.26 2.26 2.26 2.26 2.26 2.26M760.5 391.36v2.26 4.52 2.26 2.26 2.26 3.58M761.5 389.1v2.26 2.26 2.26 2.26 2.26 4.52 2.26 2.26 2.26 2.26 2.26M762.5 390.5v.86 2.26 2.26 2.26 2.26 2.26 2.26 1.58 5.2M763.5 386.84v2.26 4.52 2.26 2.26 2.26 6.78 1.32 .94 1.06M764.5 398.14v1.36 .9 2.26 2.26 2.26 2.26 6.78 2.26M765.5 393.62v2.26 6.78 4.52 2.26 2.26 2.26 2.26M766.5 395.88v2.26 2.26 2.26 .84 1.42 4.52 4.52 2.26 2.26 1.02M767.5 391.36v2.26 2.26 .62 1 2.9 1.1 3.42 .58 1.68 2.26 2.26 .8 1.46 6.78 1.76 .5 1.5M768.5 395.88v2.26 2.26 2.26 .84 1.42 2.26 2.26 2.26 2.26 2.26M769.5 393.62v2.26 2.26 2.26 2.26 4.52 2.26 2.26 2.26M770.5 391.36v6.78 2.26 2.26 2.26 3.58M771.5 389.1v2.26 2.26 2.26 2.26 2.26 2.26 2.26 2.26 2.26 2.26 2.26 2.26M772.5 391.36v2.26 4.52 2.26 2.26 2.26M773.5 390.5v3.12 2.26 2.26 2.26 6.78 2.26 1.06 1.2 2.26M774.5 391.36v2.26 2.26 .62 1 .64 1.36 .9 2.26 2.26 2.26 3.32 1.2 2.26M775.5 395.88v2.26 2.26 2.26 4.52 2.26 2.26 2.26 6.78 2.26M776.5 395.88v2.26 2.26 2.26 2.26 4.52 2.26 2.26M777.5 393.62v2.26 6.78 4.52 2.26 2.26 2.26M778.5 391.36v2.26 4.52 2.26 2.26 2.26 6.78 4.52M779.5 389.1v4.52 2.26 4.52 2.26 2.26 2.26 2.26 2.26" fill="none" stroke="none" marker-start="url(#k)" marker-mid="url(#k)" marker-end="url(#k)"/>
</svg>
</body></html>
